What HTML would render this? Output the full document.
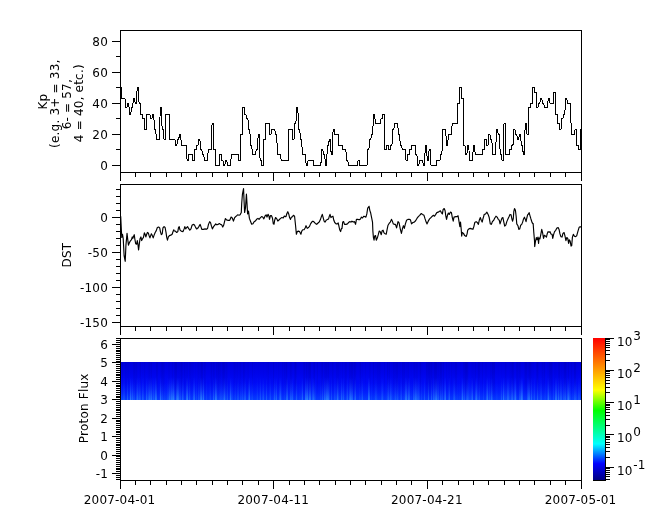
<!DOCTYPE html><html><head><meta charset="utf-8"><title>Kp DST Proton Flux</title>
<style>html,body{margin:0;padding:0;background:#fff}svg{display:block}text{letter-spacing:0.2px;font-family:"DejaVu Sans","Liberation Sans",sans-serif;font-size:12px;fill:#000}</style></head><body>
<svg width="665" height="523" viewBox="0 0 665 523">
<rect width="665" height="523" fill="#fff"/>
<g shape-rendering="crispEdges">
<defs><linearGradient id="bg" x1="0" y1="0" x2="0" y2="1"><stop offset="0" stop-color="#0000dc"/><stop offset="0.3" stop-color="#0004ea"/><stop offset="0.55" stop-color="#000af6"/><stop offset="0.8" stop-color="#0220fd"/><stop offset="1" stop-color="#063cff"/></linearGradient>
<linearGradient id="sl" x1="0" y1="0" x2="0" y2="1"><stop offset="0.4" stop-color="#3090ff" stop-opacity="0"/><stop offset="0.7" stop-color="#3898ff" stop-opacity="0.3"/><stop offset="1" stop-color="#40b0ff" stop-opacity="0.7"/></linearGradient>
<linearGradient id="sd" x1="0" y1="0" x2="0" y2="1"><stop offset="0" stop-color="#0000a0" stop-opacity="0.55"/><stop offset="0.6" stop-color="#0000b0" stop-opacity="0.3"/><stop offset="1" stop-color="#0000c0" stop-opacity="0"/></linearGradient>
<linearGradient id="cb" x1="0" y1="0" x2="0" y2="1">
<stop offset="0" stop-color="#ff0000"/>
<stop offset="0.366" stop-color="#ffff00"/>
<stop offset="0.51" stop-color="#00ff00"/>
<stop offset="0.63" stop-color="#00ff80"/>
<stop offset="0.746" stop-color="#00ffff"/>
<stop offset="0.885" stop-color="#0000ff"/>
<stop offset="1" stop-color="#000082"/>
</linearGradient></defs>
<rect x="121" y="362" width="460" height="38" fill="url(#bg)"/>
<rect x="121" y="362" width="1" height="38" fill="url(#sl)" opacity="0.16"/>
<rect x="121" y="362" width="1" height="38" fill="url(#sd)" opacity="0.09"/>
<rect x="122" y="362" width="1" height="38" fill="url(#sl)" opacity="0.09"/>
<rect x="122" y="362" width="1" height="38" fill="url(#sd)" opacity="0.44"/>
<rect x="123" y="362" width="1" height="38" fill="url(#sl)" opacity="0.26"/>
<rect x="123" y="362" width="1" height="38" fill="url(#sd)" opacity="0.05"/>
<rect x="124" y="362" width="1" height="38" fill="url(#sl)" opacity="0.27"/>
<rect x="124" y="362" width="1" height="38" fill="url(#sd)" opacity="0.07"/>
<rect x="125" y="362" width="1" height="38" fill="url(#sd)" opacity="0.34"/>
<rect x="126" y="362" width="1" height="38" fill="url(#sd)" opacity="0.29"/>
<rect x="127" y="362" width="1" height="38" fill="url(#sl)" opacity="0.49"/>
<rect x="127" y="362" width="1" height="38" fill="url(#sd)" opacity="0.26"/>
<rect x="128" y="362" width="1" height="38" fill="url(#sl)" opacity="0.05"/>
<rect x="128" y="362" width="1" height="38" fill="url(#sd)" opacity="0.29"/>
<rect x="129" y="362" width="1" height="38" fill="url(#sl)" opacity="0.08"/>
<rect x="129" y="362" width="1" height="38" fill="url(#sd)" opacity="0.15"/>
<rect x="130" y="362" width="1" height="38" fill="url(#sl)" opacity="0.76"/>
<rect x="131" y="362" width="1" height="38" fill="url(#sl)" opacity="0.30"/>
<rect x="132" y="362" width="1" height="38" fill="url(#sl)" opacity="0.53"/>
<rect x="133" y="362" width="1" height="38" fill="url(#sl)" opacity="0.23"/>
<rect x="133" y="362" width="1" height="38" fill="url(#sd)" opacity="0.34"/>
<rect x="134" y="362" width="1" height="38" fill="url(#sl)" opacity="0.26"/>
<rect x="134" y="362" width="1" height="38" fill="url(#sd)" opacity="0.41"/>
<rect x="135" y="362" width="1" height="38" fill="url(#sd)" opacity="0.29"/>
<rect x="136" y="362" width="1" height="38" fill="url(#sl)" opacity="0.33"/>
<rect x="136" y="362" width="1" height="38" fill="url(#sd)" opacity="0.35"/>
<rect x="137" y="362" width="1" height="38" fill="url(#sl)" opacity="0.61"/>
<rect x="137" y="362" width="1" height="38" fill="url(#sd)" opacity="0.11"/>
<rect x="138" y="362" width="1" height="38" fill="url(#sl)" opacity="0.29"/>
<rect x="139" y="362" width="1" height="38" fill="url(#sl)" opacity="0.44"/>
<rect x="139" y="362" width="1" height="38" fill="url(#sd)" opacity="0.14"/>
<rect x="140" y="362" width="1" height="38" fill="url(#sl)" opacity="0.34"/>
<rect x="140" y="362" width="1" height="38" fill="url(#sd)" opacity="0.41"/>
<rect x="142" y="362" width="1" height="38" fill="url(#sl)" opacity="0.42"/>
<rect x="142" y="362" width="1" height="38" fill="url(#sd)" opacity="0.11"/>
<rect x="143" y="362" width="1" height="38" fill="url(#sl)" opacity="0.27"/>
<rect x="143" y="362" width="1" height="38" fill="url(#sd)" opacity="0.08"/>
<rect x="144" y="362" width="1" height="38" fill="url(#sd)" opacity="0.33"/>
<rect x="145" y="362" width="1" height="38" fill="url(#sd)" opacity="0.11"/>
<rect x="146" y="362" width="1" height="38" fill="url(#sl)" opacity="0.55"/>
<rect x="146" y="362" width="1" height="38" fill="url(#sd)" opacity="0.05"/>
<rect x="147" y="362" width="1" height="38" fill="url(#sl)" opacity="0.24"/>
<rect x="147" y="362" width="1" height="38" fill="url(#sd)" opacity="0.11"/>
<rect x="148" y="362" width="1" height="38" fill="url(#sl)" opacity="0.45"/>
<rect x="148" y="362" width="1" height="38" fill="url(#sd)" opacity="0.24"/>
<rect x="149" y="362" width="1" height="38" fill="url(#sl)" opacity="0.67"/>
<rect x="149" y="362" width="1" height="38" fill="url(#sd)" opacity="0.37"/>
<rect x="150" y="362" width="1" height="38" fill="url(#sl)" opacity="0.53"/>
<rect x="150" y="362" width="1" height="38" fill="url(#sd)" opacity="0.19"/>
<rect x="151" y="362" width="1" height="38" fill="url(#sl)" opacity="0.69"/>
<rect x="151" y="362" width="1" height="38" fill="url(#sd)" opacity="0.39"/>
<rect x="152" y="362" width="1" height="38" fill="url(#sl)" opacity="0.22"/>
<rect x="153" y="362" width="1" height="38" fill="url(#sl)" opacity="0.47"/>
<rect x="154" y="362" width="1" height="38" fill="url(#sl)" opacity="0.26"/>
<rect x="155" y="362" width="1" height="38" fill="url(#sl)" opacity="0.75"/>
<rect x="156" y="362" width="1" height="38" fill="url(#sl)" opacity="0.65"/>
<rect x="156" y="362" width="1" height="38" fill="url(#sd)" opacity="0.39"/>
<rect x="157" y="362" width="1" height="38" fill="url(#sd)" opacity="0.36"/>
<rect x="159" y="362" width="1" height="38" fill="url(#sl)" opacity="0.05"/>
<rect x="160" y="362" width="1" height="38" fill="url(#sl)" opacity="0.70"/>
<rect x="160" y="362" width="1" height="38" fill="url(#sd)" opacity="0.13"/>
<rect x="161" y="362" width="1" height="38" fill="url(#sl)" opacity="0.22"/>
<rect x="161" y="362" width="1" height="38" fill="url(#sd)" opacity="0.40"/>
<rect x="162" y="362" width="1" height="38" fill="url(#sl)" opacity="0.26"/>
<rect x="162" y="362" width="1" height="38" fill="url(#sd)" opacity="0.50"/>
<rect x="163" y="362" width="1" height="38" fill="url(#sl)" opacity="0.05"/>
<rect x="163" y="362" width="1" height="38" fill="url(#sd)" opacity="0.43"/>
<rect x="164" y="362" width="1" height="38" fill="url(#sl)" opacity="0.14"/>
<rect x="164" y="362" width="1" height="38" fill="url(#sd)" opacity="0.25"/>
<rect x="165" y="362" width="1" height="38" fill="url(#sl)" opacity="0.06"/>
<rect x="166" y="362" width="1" height="38" fill="url(#sl)" opacity="0.06"/>
<rect x="166" y="362" width="1" height="38" fill="url(#sd)" opacity="0.04"/>
<rect x="167" y="362" width="1" height="38" fill="url(#sl)" opacity="0.24"/>
<rect x="168" y="362" width="1" height="38" fill="url(#sl)" opacity="0.33"/>
<rect x="168" y="362" width="1" height="38" fill="url(#sd)" opacity="0.18"/>
<rect x="169" y="362" width="1" height="38" fill="url(#sl)" opacity="0.68"/>
<rect x="169" y="362" width="1" height="38" fill="url(#sd)" opacity="0.20"/>
<rect x="170" y="362" width="1" height="38" fill="url(#sl)" opacity="0.50"/>
<rect x="171" y="362" width="1" height="38" fill="url(#sl)" opacity="0.77"/>
<rect x="171" y="362" width="1" height="38" fill="url(#sd)" opacity="0.05"/>
<rect x="172" y="362" width="1" height="38" fill="url(#sl)" opacity="0.75"/>
<rect x="172" y="362" width="1" height="38" fill="url(#sd)" opacity="0.32"/>
<rect x="173" y="362" width="1" height="38" fill="url(#sl)" opacity="0.87"/>
<rect x="173" y="362" width="1" height="38" fill="url(#sd)" opacity="0.06"/>
<rect x="174" y="362" width="1" height="38" fill="url(#sl)" opacity="0.40"/>
<rect x="174" y="362" width="1" height="38" fill="url(#sd)" opacity="0.43"/>
<rect x="175" y="362" width="1" height="38" fill="url(#sl)" opacity="0.07"/>
<rect x="175" y="362" width="1" height="38" fill="url(#sd)" opacity="0.62"/>
<rect x="176" y="362" width="1" height="38" fill="url(#sl)" opacity="0.64"/>
<rect x="176" y="362" width="1" height="38" fill="url(#sd)" opacity="0.59"/>
<rect x="177" y="362" width="1" height="38" fill="url(#sl)" opacity="0.87"/>
<rect x="177" y="362" width="1" height="38" fill="url(#sd)" opacity="0.19"/>
<rect x="178" y="362" width="1" height="38" fill="url(#sl)" opacity="0.74"/>
<rect x="178" y="362" width="1" height="38" fill="url(#sd)" opacity="0.22"/>
<rect x="179" y="362" width="1" height="38" fill="url(#sl)" opacity="0.34"/>
<rect x="179" y="362" width="1" height="38" fill="url(#sd)" opacity="0.27"/>
<rect x="180" y="362" width="1" height="38" fill="url(#sl)" opacity="0.36"/>
<rect x="180" y="362" width="1" height="38" fill="url(#sd)" opacity="0.37"/>
<rect x="181" y="362" width="1" height="38" fill="url(#sl)" opacity="0.09"/>
<rect x="181" y="362" width="1" height="38" fill="url(#sd)" opacity="0.62"/>
<rect x="182" y="362" width="1" height="38" fill="url(#sl)" opacity="0.52"/>
<rect x="182" y="362" width="1" height="38" fill="url(#sd)" opacity="0.38"/>
<rect x="183" y="362" width="1" height="38" fill="url(#sl)" opacity="0.27"/>
<rect x="183" y="362" width="1" height="38" fill="url(#sd)" opacity="0.15"/>
<rect x="184" y="362" width="1" height="38" fill="url(#sd)" opacity="0.44"/>
<rect x="185" y="362" width="1" height="38" fill="url(#sd)" opacity="0.25"/>
<rect x="186" y="362" width="1" height="38" fill="url(#sl)" opacity="0.63"/>
<rect x="186" y="362" width="1" height="38" fill="url(#sd)" opacity="0.29"/>
<rect x="187" y="362" width="1" height="38" fill="url(#sl)" opacity="0.81"/>
<rect x="187" y="362" width="1" height="38" fill="url(#sd)" opacity="0.32"/>
<rect x="188" y="362" width="1" height="38" fill="url(#sl)" opacity="0.11"/>
<rect x="188" y="362" width="1" height="38" fill="url(#sd)" opacity="0.04"/>
<rect x="189" y="362" width="1" height="38" fill="url(#sl)" opacity="0.45"/>
<rect x="189" y="362" width="1" height="38" fill="url(#sd)" opacity="0.36"/>
<rect x="190" y="362" width="1" height="38" fill="url(#sl)" opacity="0.12"/>
<rect x="190" y="362" width="1" height="38" fill="url(#sd)" opacity="0.34"/>
<rect x="191" y="362" width="1" height="38" fill="url(#sd)" opacity="0.21"/>
<rect x="192" y="362" width="1" height="38" fill="url(#sl)" opacity="0.04"/>
<rect x="192" y="362" width="1" height="38" fill="url(#sd)" opacity="0.19"/>
<rect x="193" y="362" width="1" height="38" fill="url(#sl)" opacity="0.50"/>
<rect x="193" y="362" width="1" height="38" fill="url(#sd)" opacity="0.12"/>
<rect x="194" y="362" width="1" height="38" fill="url(#sl)" opacity="0.61"/>
<rect x="195" y="362" width="1" height="38" fill="url(#sl)" opacity="0.04"/>
<rect x="195" y="362" width="1" height="38" fill="url(#sd)" opacity="0.12"/>
<rect x="196" y="362" width="1" height="38" fill="url(#sl)" opacity="0.21"/>
<rect x="197" y="362" width="1" height="38" fill="url(#sd)" opacity="0.16"/>
<rect x="198" y="362" width="1" height="38" fill="url(#sl)" opacity="0.34"/>
<rect x="198" y="362" width="1" height="38" fill="url(#sd)" opacity="0.28"/>
<rect x="199" y="362" width="1" height="38" fill="url(#sl)" opacity="0.15"/>
<rect x="199" y="362" width="1" height="38" fill="url(#sd)" opacity="0.18"/>
<rect x="200" y="362" width="1" height="38" fill="url(#sl)" opacity="0.68"/>
<rect x="200" y="362" width="1" height="38" fill="url(#sd)" opacity="0.30"/>
<rect x="201" y="362" width="1" height="38" fill="url(#sl)" opacity="0.83"/>
<rect x="201" y="362" width="1" height="38" fill="url(#sd)" opacity="0.63"/>
<rect x="202" y="362" width="1" height="38" fill="url(#sl)" opacity="0.36"/>
<rect x="202" y="362" width="1" height="38" fill="url(#sd)" opacity="0.53"/>
<rect x="203" y="362" width="1" height="38" fill="url(#sl)" opacity="0.77"/>
<rect x="203" y="362" width="1" height="38" fill="url(#sd)" opacity="0.11"/>
<rect x="204" y="362" width="1" height="38" fill="url(#sl)" opacity="0.10"/>
<rect x="204" y="362" width="1" height="38" fill="url(#sd)" opacity="0.38"/>
<rect x="205" y="362" width="1" height="38" fill="url(#sd)" opacity="0.27"/>
<rect x="206" y="362" width="1" height="38" fill="url(#sl)" opacity="0.19"/>
<rect x="209" y="362" width="1" height="38" fill="url(#sl)" opacity="0.08"/>
<rect x="210" y="362" width="1" height="38" fill="url(#sl)" opacity="0.23"/>
<rect x="210" y="362" width="1" height="38" fill="url(#sd)" opacity="0.24"/>
<rect x="211" y="362" width="1" height="38" fill="url(#sd)" opacity="0.51"/>
<rect x="212" y="362" width="1" height="38" fill="url(#sd)" opacity="0.21"/>
<rect x="213" y="362" width="1" height="38" fill="url(#sl)" opacity="0.53"/>
<rect x="213" y="362" width="1" height="38" fill="url(#sd)" opacity="0.48"/>
<rect x="214" y="362" width="1" height="38" fill="url(#sl)" opacity="0.19"/>
<rect x="214" y="362" width="1" height="38" fill="url(#sd)" opacity="0.35"/>
<rect x="215" y="362" width="1" height="38" fill="url(#sl)" opacity="0.78"/>
<rect x="215" y="362" width="1" height="38" fill="url(#sd)" opacity="0.08"/>
<rect x="216" y="362" width="1" height="38" fill="url(#sl)" opacity="0.70"/>
<rect x="216" y="362" width="1" height="38" fill="url(#sd)" opacity="0.44"/>
<rect x="217" y="362" width="1" height="38" fill="url(#sl)" opacity="0.14"/>
<rect x="217" y="362" width="1" height="38" fill="url(#sd)" opacity="0.39"/>
<rect x="218" y="362" width="1" height="38" fill="url(#sl)" opacity="0.12"/>
<rect x="218" y="362" width="1" height="38" fill="url(#sd)" opacity="0.57"/>
<rect x="219" y="362" width="1" height="38" fill="url(#sl)" opacity="0.20"/>
<rect x="219" y="362" width="1" height="38" fill="url(#sd)" opacity="0.45"/>
<rect x="220" y="362" width="1" height="38" fill="url(#sl)" opacity="0.32"/>
<rect x="220" y="362" width="1" height="38" fill="url(#sd)" opacity="0.37"/>
<rect x="221" y="362" width="1" height="38" fill="url(#sl)" opacity="0.28"/>
<rect x="221" y="362" width="1" height="38" fill="url(#sd)" opacity="0.18"/>
<rect x="222" y="362" width="1" height="38" fill="url(#sl)" opacity="0.25"/>
<rect x="222" y="362" width="1" height="38" fill="url(#sd)" opacity="0.47"/>
<rect x="223" y="362" width="1" height="38" fill="url(#sl)" opacity="0.37"/>
<rect x="223" y="362" width="1" height="38" fill="url(#sd)" opacity="0.64"/>
<rect x="224" y="362" width="1" height="38" fill="url(#sl)" opacity="0.71"/>
<rect x="224" y="362" width="1" height="38" fill="url(#sd)" opacity="0.53"/>
<rect x="225" y="362" width="1" height="38" fill="url(#sl)" opacity="0.25"/>
<rect x="225" y="362" width="1" height="38" fill="url(#sd)" opacity="0.24"/>
<rect x="226" y="362" width="1" height="38" fill="url(#sl)" opacity="0.15"/>
<rect x="226" y="362" width="1" height="38" fill="url(#sd)" opacity="0.36"/>
<rect x="227" y="362" width="1" height="38" fill="url(#sl)" opacity="0.36"/>
<rect x="227" y="362" width="1" height="38" fill="url(#sd)" opacity="0.17"/>
<rect x="229" y="362" width="1" height="38" fill="url(#sl)" opacity="0.10"/>
<rect x="230" y="362" width="1" height="38" fill="url(#sl)" opacity="0.74"/>
<rect x="231" y="362" width="1" height="38" fill="url(#sl)" opacity="0.28"/>
<rect x="232" y="362" width="1" height="38" fill="url(#sl)" opacity="0.18"/>
<rect x="233" y="362" width="1" height="38" fill="url(#sd)" opacity="0.17"/>
<rect x="234" y="362" width="1" height="38" fill="url(#sl)" opacity="0.08"/>
<rect x="234" y="362" width="1" height="38" fill="url(#sd)" opacity="0.33"/>
<rect x="235" y="362" width="1" height="38" fill="url(#sl)" opacity="0.19"/>
<rect x="235" y="362" width="1" height="38" fill="url(#sd)" opacity="0.23"/>
<rect x="236" y="362" width="1" height="38" fill="url(#sd)" opacity="0.16"/>
<rect x="237" y="362" width="1" height="38" fill="url(#sl)" opacity="0.26"/>
<rect x="237" y="362" width="1" height="38" fill="url(#sd)" opacity="0.25"/>
<rect x="238" y="362" width="1" height="38" fill="url(#sl)" opacity="0.27"/>
<rect x="238" y="362" width="1" height="38" fill="url(#sd)" opacity="0.08"/>
<rect x="239" y="362" width="1" height="38" fill="url(#sd)" opacity="0.18"/>
<rect x="240" y="362" width="1" height="38" fill="url(#sl)" opacity="0.25"/>
<rect x="240" y="362" width="1" height="38" fill="url(#sd)" opacity="0.36"/>
<rect x="241" y="362" width="1" height="38" fill="url(#sl)" opacity="0.18"/>
<rect x="241" y="362" width="1" height="38" fill="url(#sd)" opacity="0.12"/>
<rect x="242" y="362" width="1" height="38" fill="url(#sl)" opacity="0.32"/>
<rect x="242" y="362" width="1" height="38" fill="url(#sd)" opacity="0.06"/>
<rect x="243" y="362" width="1" height="38" fill="url(#sl)" opacity="0.12"/>
<rect x="243" y="362" width="1" height="38" fill="url(#sd)" opacity="0.50"/>
<rect x="244" y="362" width="1" height="38" fill="url(#sl)" opacity="0.40"/>
<rect x="244" y="362" width="1" height="38" fill="url(#sd)" opacity="0.39"/>
<rect x="245" y="362" width="1" height="38" fill="url(#sl)" opacity="0.41"/>
<rect x="245" y="362" width="1" height="38" fill="url(#sd)" opacity="0.12"/>
<rect x="246" y="362" width="1" height="38" fill="url(#sd)" opacity="0.09"/>
<rect x="247" y="362" width="1" height="38" fill="url(#sd)" opacity="0.20"/>
<rect x="248" y="362" width="1" height="38" fill="url(#sl)" opacity="0.40"/>
<rect x="248" y="362" width="1" height="38" fill="url(#sd)" opacity="0.22"/>
<rect x="249" y="362" width="1" height="38" fill="url(#sl)" opacity="0.73"/>
<rect x="250" y="362" width="1" height="38" fill="url(#sl)" opacity="0.09"/>
<rect x="251" y="362" width="1" height="38" fill="url(#sl)" opacity="0.12"/>
<rect x="252" y="362" width="1" height="38" fill="url(#sl)" opacity="0.22"/>
<rect x="252" y="362" width="1" height="38" fill="url(#sd)" opacity="0.32"/>
<rect x="254" y="362" width="1" height="38" fill="url(#sd)" opacity="0.08"/>
<rect x="256" y="362" width="1" height="38" fill="url(#sl)" opacity="0.06"/>
<rect x="257" y="362" width="1" height="38" fill="url(#sl)" opacity="0.22"/>
<rect x="258" y="362" width="1" height="38" fill="url(#sd)" opacity="0.05"/>
<rect x="259" y="362" width="1" height="38" fill="url(#sl)" opacity="0.10"/>
<rect x="260" y="362" width="1" height="38" fill="url(#sl)" opacity="0.41"/>
<rect x="262" y="362" width="1" height="38" fill="url(#sl)" opacity="0.23"/>
<rect x="263" y="362" width="1" height="38" fill="url(#sl)" opacity="0.40"/>
<rect x="263" y="362" width="1" height="38" fill="url(#sd)" opacity="0.09"/>
<rect x="264" y="362" width="1" height="38" fill="url(#sl)" opacity="0.05"/>
<rect x="266" y="362" width="1" height="38" fill="url(#sl)" opacity="0.44"/>
<rect x="266" y="362" width="1" height="38" fill="url(#sd)" opacity="0.09"/>
<rect x="267" y="362" width="1" height="38" fill="url(#sd)" opacity="0.15"/>
<rect x="268" y="362" width="1" height="38" fill="url(#sd)" opacity="0.27"/>
<rect x="269" y="362" width="1" height="38" fill="url(#sl)" opacity="0.12"/>
<rect x="270" y="362" width="1" height="38" fill="url(#sl)" opacity="0.32"/>
<rect x="270" y="362" width="1" height="38" fill="url(#sd)" opacity="0.06"/>
<rect x="271" y="362" width="1" height="38" fill="url(#sd)" opacity="0.06"/>
<rect x="273" y="362" width="1" height="38" fill="url(#sl)" opacity="0.09"/>
<rect x="273" y="362" width="1" height="38" fill="url(#sd)" opacity="0.48"/>
<rect x="274" y="362" width="1" height="38" fill="url(#sl)" opacity="0.51"/>
<rect x="274" y="362" width="1" height="38" fill="url(#sd)" opacity="0.06"/>
<rect x="275" y="362" width="1" height="38" fill="url(#sl)" opacity="0.24"/>
<rect x="276" y="362" width="1" height="38" fill="url(#sl)" opacity="0.53"/>
<rect x="276" y="362" width="1" height="38" fill="url(#sd)" opacity="0.08"/>
<rect x="278" y="362" width="1" height="38" fill="url(#sl)" opacity="0.04"/>
<rect x="278" y="362" width="1" height="38" fill="url(#sd)" opacity="0.21"/>
<rect x="279" y="362" width="1" height="38" fill="url(#sl)" opacity="0.36"/>
<rect x="279" y="362" width="1" height="38" fill="url(#sd)" opacity="0.07"/>
<rect x="280" y="362" width="1" height="38" fill="url(#sl)" opacity="0.63"/>
<rect x="281" y="362" width="1" height="38" fill="url(#sl)" opacity="0.17"/>
<rect x="282" y="362" width="1" height="38" fill="url(#sd)" opacity="0.28"/>
<rect x="283" y="362" width="1" height="38" fill="url(#sd)" opacity="0.13"/>
<rect x="284" y="362" width="1" height="38" fill="url(#sl)" opacity="0.13"/>
<rect x="284" y="362" width="1" height="38" fill="url(#sd)" opacity="0.37"/>
<rect x="285" y="362" width="1" height="38" fill="url(#sl)" opacity="0.04"/>
<rect x="285" y="362" width="1" height="38" fill="url(#sd)" opacity="0.28"/>
<rect x="286" y="362" width="1" height="38" fill="url(#sl)" opacity="0.53"/>
<rect x="286" y="362" width="1" height="38" fill="url(#sd)" opacity="0.50"/>
<rect x="287" y="362" width="1" height="38" fill="url(#sl)" opacity="0.57"/>
<rect x="287" y="362" width="1" height="38" fill="url(#sd)" opacity="0.11"/>
<rect x="289" y="362" width="1" height="38" fill="url(#sl)" opacity="0.05"/>
<rect x="289" y="362" width="1" height="38" fill="url(#sd)" opacity="0.07"/>
<rect x="290" y="362" width="1" height="38" fill="url(#sl)" opacity="0.50"/>
<rect x="290" y="362" width="1" height="38" fill="url(#sd)" opacity="0.41"/>
<rect x="291" y="362" width="1" height="38" fill="url(#sl)" opacity="0.41"/>
<rect x="291" y="362" width="1" height="38" fill="url(#sd)" opacity="0.31"/>
<rect x="292" y="362" width="1" height="38" fill="url(#sl)" opacity="0.50"/>
<rect x="292" y="362" width="1" height="38" fill="url(#sd)" opacity="0.06"/>
<rect x="293" y="362" width="1" height="38" fill="url(#sl)" opacity="0.08"/>
<rect x="294" y="362" width="1" height="38" fill="url(#sd)" opacity="0.35"/>
<rect x="295" y="362" width="1" height="38" fill="url(#sl)" opacity="0.05"/>
<rect x="295" y="362" width="1" height="38" fill="url(#sd)" opacity="0.60"/>
<rect x="296" y="362" width="1" height="38" fill="url(#sl)" opacity="0.44"/>
<rect x="296" y="362" width="1" height="38" fill="url(#sd)" opacity="0.28"/>
<rect x="297" y="362" width="1" height="38" fill="url(#sl)" opacity="0.05"/>
<rect x="299" y="362" width="1" height="38" fill="url(#sl)" opacity="0.07"/>
<rect x="300" y="362" width="1" height="38" fill="url(#sl)" opacity="0.08"/>
<rect x="301" y="362" width="1" height="38" fill="url(#sl)" opacity="0.17"/>
<rect x="302" y="362" width="1" height="38" fill="url(#sl)" opacity="0.62"/>
<rect x="303" y="362" width="1" height="38" fill="url(#sd)" opacity="0.32"/>
<rect x="304" y="362" width="1" height="38" fill="url(#sd)" opacity="0.49"/>
<rect x="305" y="362" width="1" height="38" fill="url(#sl)" opacity="0.74"/>
<rect x="305" y="362" width="1" height="38" fill="url(#sd)" opacity="0.17"/>
<rect x="306" y="362" width="1" height="38" fill="url(#sl)" opacity="0.78"/>
<rect x="306" y="362" width="1" height="38" fill="url(#sd)" opacity="0.53"/>
<rect x="307" y="362" width="1" height="38" fill="url(#sl)" opacity="0.83"/>
<rect x="307" y="362" width="1" height="38" fill="url(#sd)" opacity="0.30"/>
<rect x="308" y="362" width="1" height="38" fill="url(#sl)" opacity="0.30"/>
<rect x="308" y="362" width="1" height="38" fill="url(#sd)" opacity="0.48"/>
<rect x="309" y="362" width="1" height="38" fill="url(#sl)" opacity="0.78"/>
<rect x="309" y="362" width="1" height="38" fill="url(#sd)" opacity="0.64"/>
<rect x="310" y="362" width="1" height="38" fill="url(#sl)" opacity="0.73"/>
<rect x="310" y="362" width="1" height="38" fill="url(#sd)" opacity="0.56"/>
<rect x="311" y="362" width="1" height="38" fill="url(#sl)" opacity="0.12"/>
<rect x="312" y="362" width="1" height="38" fill="url(#sl)" opacity="0.45"/>
<rect x="313" y="362" width="1" height="38" fill="url(#sl)" opacity="0.61"/>
<rect x="313" y="362" width="1" height="38" fill="url(#sd)" opacity="0.31"/>
<rect x="314" y="362" width="1" height="38" fill="url(#sl)" opacity="0.39"/>
<rect x="314" y="362" width="1" height="38" fill="url(#sd)" opacity="0.51"/>
<rect x="315" y="362" width="1" height="38" fill="url(#sl)" opacity="0.18"/>
<rect x="316" y="362" width="1" height="38" fill="url(#sd)" opacity="0.07"/>
<rect x="317" y="362" width="1" height="38" fill="url(#sd)" opacity="0.39"/>
<rect x="319" y="362" width="1" height="38" fill="url(#sd)" opacity="0.05"/>
<rect x="320" y="362" width="1" height="38" fill="url(#sl)" opacity="0.19"/>
<rect x="320" y="362" width="1" height="38" fill="url(#sd)" opacity="0.10"/>
<rect x="321" y="362" width="1" height="38" fill="url(#sl)" opacity="0.09"/>
<rect x="321" y="362" width="1" height="38" fill="url(#sd)" opacity="0.37"/>
<rect x="322" y="362" width="1" height="38" fill="url(#sl)" opacity="0.45"/>
<rect x="322" y="362" width="1" height="38" fill="url(#sd)" opacity="0.51"/>
<rect x="323" y="362" width="1" height="38" fill="url(#sl)" opacity="0.09"/>
<rect x="323" y="362" width="1" height="38" fill="url(#sd)" opacity="0.12"/>
<rect x="324" y="362" width="1" height="38" fill="url(#sl)" opacity="0.64"/>
<rect x="324" y="362" width="1" height="38" fill="url(#sd)" opacity="0.36"/>
<rect x="325" y="362" width="1" height="38" fill="url(#sl)" opacity="0.51"/>
<rect x="325" y="362" width="1" height="38" fill="url(#sd)" opacity="0.45"/>
<rect x="326" y="362" width="1" height="38" fill="url(#sl)" opacity="0.77"/>
<rect x="326" y="362" width="1" height="38" fill="url(#sd)" opacity="0.49"/>
<rect x="327" y="362" width="1" height="38" fill="url(#sl)" opacity="0.78"/>
<rect x="327" y="362" width="1" height="38" fill="url(#sd)" opacity="0.35"/>
<rect x="328" y="362" width="1" height="38" fill="url(#sl)" opacity="0.72"/>
<rect x="328" y="362" width="1" height="38" fill="url(#sd)" opacity="0.51"/>
<rect x="329" y="362" width="1" height="38" fill="url(#sl)" opacity="0.28"/>
<rect x="329" y="362" width="1" height="38" fill="url(#sd)" opacity="0.16"/>
<rect x="330" y="362" width="1" height="38" fill="url(#sd)" opacity="0.08"/>
<rect x="331" y="362" width="1" height="38" fill="url(#sl)" opacity="0.36"/>
<rect x="331" y="362" width="1" height="38" fill="url(#sd)" opacity="0.06"/>
<rect x="332" y="362" width="1" height="38" fill="url(#sd)" opacity="0.36"/>
<rect x="333" y="362" width="1" height="38" fill="url(#sd)" opacity="0.19"/>
<rect x="334" y="362" width="1" height="38" fill="url(#sl)" opacity="0.31"/>
<rect x="335" y="362" width="1" height="38" fill="url(#sl)" opacity="0.20"/>
<rect x="336" y="362" width="1" height="38" fill="url(#sl)" opacity="0.19"/>
<rect x="336" y="362" width="1" height="38" fill="url(#sd)" opacity="0.32"/>
<rect x="337" y="362" width="1" height="38" fill="url(#sl)" opacity="0.70"/>
<rect x="337" y="362" width="1" height="38" fill="url(#sd)" opacity="0.33"/>
<rect x="338" y="362" width="1" height="38" fill="url(#sl)" opacity="0.34"/>
<rect x="338" y="362" width="1" height="38" fill="url(#sd)" opacity="0.34"/>
<rect x="339" y="362" width="1" height="38" fill="url(#sl)" opacity="0.05"/>
<rect x="339" y="362" width="1" height="38" fill="url(#sd)" opacity="0.14"/>
<rect x="340" y="362" width="1" height="38" fill="url(#sl)" opacity="0.06"/>
<rect x="340" y="362" width="1" height="38" fill="url(#sd)" opacity="0.12"/>
<rect x="341" y="362" width="1" height="38" fill="url(#sl)" opacity="0.55"/>
<rect x="342" y="362" width="1" height="38" fill="url(#sl)" opacity="0.26"/>
<rect x="342" y="362" width="1" height="38" fill="url(#sd)" opacity="0.25"/>
<rect x="343" y="362" width="1" height="38" fill="url(#sl)" opacity="0.45"/>
<rect x="344" y="362" width="1" height="38" fill="url(#sl)" opacity="0.08"/>
<rect x="344" y="362" width="1" height="38" fill="url(#sd)" opacity="0.16"/>
<rect x="345" y="362" width="1" height="38" fill="url(#sd)" opacity="0.40"/>
<rect x="346" y="362" width="1" height="38" fill="url(#sl)" opacity="0.22"/>
<rect x="346" y="362" width="1" height="38" fill="url(#sd)" opacity="0.31"/>
<rect x="347" y="362" width="1" height="38" fill="url(#sl)" opacity="0.49"/>
<rect x="348" y="362" width="1" height="38" fill="url(#sl)" opacity="0.09"/>
<rect x="348" y="362" width="1" height="38" fill="url(#sd)" opacity="0.05"/>
<rect x="349" y="362" width="1" height="38" fill="url(#sl)" opacity="0.53"/>
<rect x="349" y="362" width="1" height="38" fill="url(#sd)" opacity="0.44"/>
<rect x="350" y="362" width="1" height="38" fill="url(#sl)" opacity="0.77"/>
<rect x="350" y="362" width="1" height="38" fill="url(#sd)" opacity="0.41"/>
<rect x="351" y="362" width="1" height="38" fill="url(#sl)" opacity="0.63"/>
<rect x="351" y="362" width="1" height="38" fill="url(#sd)" opacity="0.56"/>
<rect x="352" y="362" width="1" height="38" fill="url(#sl)" opacity="0.54"/>
<rect x="352" y="362" width="1" height="38" fill="url(#sd)" opacity="0.53"/>
<rect x="353" y="362" width="1" height="38" fill="url(#sd)" opacity="0.28"/>
<rect x="354" y="362" width="1" height="38" fill="url(#sl)" opacity="0.32"/>
<rect x="354" y="362" width="1" height="38" fill="url(#sd)" opacity="0.53"/>
<rect x="355" y="362" width="1" height="38" fill="url(#sl)" opacity="0.56"/>
<rect x="355" y="362" width="1" height="38" fill="url(#sd)" opacity="0.40"/>
<rect x="356" y="362" width="1" height="38" fill="url(#sd)" opacity="0.10"/>
<rect x="359" y="362" width="1" height="38" fill="url(#sl)" opacity="0.16"/>
<rect x="359" y="362" width="1" height="38" fill="url(#sd)" opacity="0.15"/>
<rect x="360" y="362" width="1" height="38" fill="url(#sl)" opacity="0.11"/>
<rect x="360" y="362" width="1" height="38" fill="url(#sd)" opacity="0.49"/>
<rect x="361" y="362" width="1" height="38" fill="url(#sl)" opacity="0.18"/>
<rect x="361" y="362" width="1" height="38" fill="url(#sd)" opacity="0.07"/>
<rect x="362" y="362" width="1" height="38" fill="url(#sl)" opacity="0.42"/>
<rect x="362" y="362" width="1" height="38" fill="url(#sd)" opacity="0.14"/>
<rect x="365" y="362" width="1" height="38" fill="url(#sd)" opacity="0.21"/>
<rect x="368" y="362" width="1" height="38" fill="url(#sl)" opacity="0.78"/>
<rect x="369" y="362" width="1" height="38" fill="url(#sl)" opacity="0.63"/>
<rect x="369" y="362" width="1" height="38" fill="url(#sd)" opacity="0.26"/>
<rect x="370" y="362" width="1" height="38" fill="url(#sd)" opacity="0.22"/>
<rect x="371" y="362" width="1" height="38" fill="url(#sl)" opacity="0.11"/>
<rect x="372" y="362" width="1" height="38" fill="url(#sd)" opacity="0.06"/>
<rect x="373" y="362" width="1" height="38" fill="url(#sd)" opacity="0.49"/>
<rect x="374" y="362" width="1" height="38" fill="url(#sl)" opacity="0.06"/>
<rect x="374" y="362" width="1" height="38" fill="url(#sd)" opacity="0.12"/>
<rect x="375" y="362" width="1" height="38" fill="url(#sl)" opacity="0.30"/>
<rect x="375" y="362" width="1" height="38" fill="url(#sd)" opacity="0.18"/>
<rect x="376" y="362" width="1" height="38" fill="url(#sl)" opacity="0.25"/>
<rect x="376" y="362" width="1" height="38" fill="url(#sd)" opacity="0.19"/>
<rect x="377" y="362" width="1" height="38" fill="url(#sl)" opacity="0.05"/>
<rect x="377" y="362" width="1" height="38" fill="url(#sd)" opacity="0.40"/>
<rect x="378" y="362" width="1" height="38" fill="url(#sd)" opacity="0.35"/>
<rect x="379" y="362" width="1" height="38" fill="url(#sd)" opacity="0.42"/>
<rect x="380" y="362" width="1" height="38" fill="url(#sd)" opacity="0.22"/>
<rect x="381" y="362" width="1" height="38" fill="url(#sl)" opacity="0.22"/>
<rect x="382" y="362" width="1" height="38" fill="url(#sl)" opacity="0.38"/>
<rect x="383" y="362" width="1" height="38" fill="url(#sl)" opacity="0.08"/>
<rect x="384" y="362" width="1" height="38" fill="url(#sd)" opacity="0.35"/>
<rect x="386" y="362" width="1" height="38" fill="url(#sl)" opacity="0.06"/>
<rect x="387" y="362" width="1" height="38" fill="url(#sl)" opacity="0.29"/>
<rect x="387" y="362" width="1" height="38" fill="url(#sd)" opacity="0.48"/>
<rect x="388" y="362" width="1" height="38" fill="url(#sl)" opacity="0.47"/>
<rect x="388" y="362" width="1" height="38" fill="url(#sd)" opacity="0.16"/>
<rect x="389" y="362" width="1" height="38" fill="url(#sl)" opacity="0.18"/>
<rect x="389" y="362" width="1" height="38" fill="url(#sd)" opacity="0.41"/>
<rect x="390" y="362" width="1" height="38" fill="url(#sl)" opacity="0.50"/>
<rect x="391" y="362" width="1" height="38" fill="url(#sl)" opacity="0.32"/>
<rect x="391" y="362" width="1" height="38" fill="url(#sd)" opacity="0.08"/>
<rect x="392" y="362" width="1" height="38" fill="url(#sl)" opacity="0.12"/>
<rect x="392" y="362" width="1" height="38" fill="url(#sd)" opacity="0.08"/>
<rect x="393" y="362" width="1" height="38" fill="url(#sl)" opacity="0.06"/>
<rect x="393" y="362" width="1" height="38" fill="url(#sd)" opacity="0.42"/>
<rect x="394" y="362" width="1" height="38" fill="url(#sl)" opacity="0.18"/>
<rect x="394" y="362" width="1" height="38" fill="url(#sd)" opacity="0.34"/>
<rect x="395" y="362" width="1" height="38" fill="url(#sl)" opacity="0.36"/>
<rect x="395" y="362" width="1" height="38" fill="url(#sd)" opacity="0.34"/>
<rect x="396" y="362" width="1" height="38" fill="url(#sl)" opacity="0.17"/>
<rect x="396" y="362" width="1" height="38" fill="url(#sd)" opacity="0.46"/>
<rect x="397" y="362" width="1" height="38" fill="url(#sl)" opacity="0.34"/>
<rect x="397" y="362" width="1" height="38" fill="url(#sd)" opacity="0.49"/>
<rect x="398" y="362" width="1" height="38" fill="url(#sl)" opacity="0.14"/>
<rect x="398" y="362" width="1" height="38" fill="url(#sd)" opacity="0.17"/>
<rect x="399" y="362" width="1" height="38" fill="url(#sd)" opacity="0.23"/>
<rect x="400" y="362" width="1" height="38" fill="url(#sl)" opacity="0.20"/>
<rect x="400" y="362" width="1" height="38" fill="url(#sd)" opacity="0.12"/>
<rect x="401" y="362" width="1" height="38" fill="url(#sl)" opacity="0.33"/>
<rect x="402" y="362" width="1" height="38" fill="url(#sd)" opacity="0.41"/>
<rect x="403" y="362" width="1" height="38" fill="url(#sl)" opacity="0.07"/>
<rect x="403" y="362" width="1" height="38" fill="url(#sd)" opacity="0.36"/>
<rect x="404" y="362" width="1" height="38" fill="url(#sl)" opacity="0.17"/>
<rect x="404" y="362" width="1" height="38" fill="url(#sd)" opacity="0.40"/>
<rect x="405" y="362" width="1" height="38" fill="url(#sl)" opacity="0.68"/>
<rect x="405" y="362" width="1" height="38" fill="url(#sd)" opacity="0.08"/>
<rect x="406" y="362" width="1" height="38" fill="url(#sl)" opacity="0.74"/>
<rect x="406" y="362" width="1" height="38" fill="url(#sd)" opacity="0.17"/>
<rect x="407" y="362" width="1" height="38" fill="url(#sl)" opacity="0.23"/>
<rect x="407" y="362" width="1" height="38" fill="url(#sd)" opacity="0.20"/>
<rect x="408" y="362" width="1" height="38" fill="url(#sl)" opacity="0.66"/>
<rect x="408" y="362" width="1" height="38" fill="url(#sd)" opacity="0.30"/>
<rect x="409" y="362" width="1" height="38" fill="url(#sl)" opacity="0.53"/>
<rect x="410" y="362" width="1" height="38" fill="url(#sl)" opacity="0.06"/>
<rect x="410" y="362" width="1" height="38" fill="url(#sd)" opacity="0.04"/>
<rect x="411" y="362" width="1" height="38" fill="url(#sl)" opacity="0.08"/>
<rect x="411" y="362" width="1" height="38" fill="url(#sd)" opacity="0.11"/>
<rect x="413" y="362" width="1" height="38" fill="url(#sl)" opacity="0.50"/>
<rect x="413" y="362" width="1" height="38" fill="url(#sd)" opacity="0.21"/>
<rect x="414" y="362" width="1" height="38" fill="url(#sl)" opacity="0.45"/>
<rect x="414" y="362" width="1" height="38" fill="url(#sd)" opacity="0.35"/>
<rect x="415" y="362" width="1" height="38" fill="url(#sl)" opacity="0.69"/>
<rect x="415" y="362" width="1" height="38" fill="url(#sd)" opacity="0.19"/>
<rect x="416" y="362" width="1" height="38" fill="url(#sl)" opacity="0.58"/>
<rect x="416" y="362" width="1" height="38" fill="url(#sd)" opacity="0.29"/>
<rect x="417" y="362" width="1" height="38" fill="url(#sl)" opacity="0.42"/>
<rect x="417" y="362" width="1" height="38" fill="url(#sd)" opacity="0.25"/>
<rect x="418" y="362" width="1" height="38" fill="url(#sl)" opacity="0.44"/>
<rect x="419" y="362" width="1" height="38" fill="url(#sl)" opacity="0.23"/>
<rect x="419" y="362" width="1" height="38" fill="url(#sd)" opacity="0.14"/>
<rect x="420" y="362" width="1" height="38" fill="url(#sd)" opacity="0.55"/>
<rect x="421" y="362" width="1" height="38" fill="url(#sl)" opacity="0.18"/>
<rect x="421" y="362" width="1" height="38" fill="url(#sd)" opacity="0.16"/>
<rect x="422" y="362" width="1" height="38" fill="url(#sd)" opacity="0.07"/>
<rect x="424" y="362" width="1" height="38" fill="url(#sl)" opacity="0.39"/>
<rect x="425" y="362" width="1" height="38" fill="url(#sd)" opacity="0.04"/>
<rect x="426" y="362" width="1" height="38" fill="url(#sd)" opacity="0.52"/>
<rect x="427" y="362" width="1" height="38" fill="url(#sd)" opacity="0.49"/>
<rect x="428" y="362" width="1" height="38" fill="url(#sl)" opacity="0.54"/>
<rect x="428" y="362" width="1" height="38" fill="url(#sd)" opacity="0.60"/>
<rect x="429" y="362" width="1" height="38" fill="url(#sd)" opacity="0.66"/>
<rect x="430" y="362" width="1" height="38" fill="url(#sd)" opacity="0.42"/>
<rect x="431" y="362" width="1" height="38" fill="url(#sl)" opacity="0.48"/>
<rect x="431" y="362" width="1" height="38" fill="url(#sd)" opacity="0.55"/>
<rect x="432" y="362" width="1" height="38" fill="url(#sl)" opacity="0.09"/>
<rect x="432" y="362" width="1" height="38" fill="url(#sd)" opacity="0.27"/>
<rect x="433" y="362" width="1" height="38" fill="url(#sl)" opacity="0.55"/>
<rect x="433" y="362" width="1" height="38" fill="url(#sd)" opacity="0.21"/>
<rect x="434" y="362" width="1" height="38" fill="url(#sl)" opacity="0.46"/>
<rect x="434" y="362" width="1" height="38" fill="url(#sd)" opacity="0.60"/>
<rect x="435" y="362" width="1" height="38" fill="url(#sl)" opacity="0.65"/>
<rect x="435" y="362" width="1" height="38" fill="url(#sd)" opacity="0.66"/>
<rect x="436" y="362" width="1" height="38" fill="url(#sl)" opacity="0.78"/>
<rect x="436" y="362" width="1" height="38" fill="url(#sd)" opacity="0.61"/>
<rect x="437" y="362" width="1" height="38" fill="url(#sl)" opacity="0.37"/>
<rect x="437" y="362" width="1" height="38" fill="url(#sd)" opacity="0.29"/>
<rect x="438" y="362" width="1" height="38" fill="url(#sl)" opacity="0.47"/>
<rect x="438" y="362" width="1" height="38" fill="url(#sd)" opacity="0.37"/>
<rect x="439" y="362" width="1" height="38" fill="url(#sl)" opacity="0.05"/>
<rect x="439" y="362" width="1" height="38" fill="url(#sd)" opacity="0.25"/>
<rect x="440" y="362" width="1" height="38" fill="url(#sl)" opacity="0.42"/>
<rect x="440" y="362" width="1" height="38" fill="url(#sd)" opacity="0.65"/>
<rect x="441" y="362" width="1" height="38" fill="url(#sl)" opacity="0.25"/>
<rect x="441" y="362" width="1" height="38" fill="url(#sd)" opacity="0.58"/>
<rect x="442" y="362" width="1" height="38" fill="url(#sl)" opacity="0.35"/>
<rect x="442" y="362" width="1" height="38" fill="url(#sd)" opacity="0.21"/>
<rect x="443" y="362" width="1" height="38" fill="url(#sl)" opacity="0.04"/>
<rect x="443" y="362" width="1" height="38" fill="url(#sd)" opacity="0.47"/>
<rect x="444" y="362" width="1" height="38" fill="url(#sl)" opacity="0.48"/>
<rect x="444" y="362" width="1" height="38" fill="url(#sd)" opacity="0.04"/>
<rect x="445" y="362" width="1" height="38" fill="url(#sl)" opacity="0.69"/>
<rect x="446" y="362" width="1" height="38" fill="url(#sd)" opacity="0.28"/>
<rect x="447" y="362" width="1" height="38" fill="url(#sd)" opacity="0.10"/>
<rect x="448" y="362" width="1" height="38" fill="url(#sl)" opacity="0.26"/>
<rect x="448" y="362" width="1" height="38" fill="url(#sd)" opacity="0.19"/>
<rect x="449" y="362" width="1" height="38" fill="url(#sl)" opacity="0.51"/>
<rect x="449" y="362" width="1" height="38" fill="url(#sd)" opacity="0.24"/>
<rect x="451" y="362" width="1" height="38" fill="url(#sd)" opacity="0.29"/>
<rect x="452" y="362" width="1" height="38" fill="url(#sd)" opacity="0.08"/>
<rect x="453" y="362" width="1" height="38" fill="url(#sl)" opacity="0.29"/>
<rect x="453" y="362" width="1" height="38" fill="url(#sd)" opacity="0.09"/>
<rect x="454" y="362" width="1" height="38" fill="url(#sl)" opacity="0.44"/>
<rect x="454" y="362" width="1" height="38" fill="url(#sd)" opacity="0.12"/>
<rect x="455" y="362" width="1" height="38" fill="url(#sl)" opacity="0.11"/>
<rect x="455" y="362" width="1" height="38" fill="url(#sd)" opacity="0.38"/>
<rect x="456" y="362" width="1" height="38" fill="url(#sl)" opacity="0.04"/>
<rect x="456" y="362" width="1" height="38" fill="url(#sd)" opacity="0.38"/>
<rect x="457" y="362" width="1" height="38" fill="url(#sl)" opacity="0.06"/>
<rect x="457" y="362" width="1" height="38" fill="url(#sd)" opacity="0.05"/>
<rect x="459" y="362" width="1" height="38" fill="url(#sl)" opacity="0.05"/>
<rect x="460" y="362" width="1" height="38" fill="url(#sd)" opacity="0.06"/>
<rect x="461" y="362" width="1" height="38" fill="url(#sl)" opacity="0.23"/>
<rect x="462" y="362" width="1" height="38" fill="url(#sl)" opacity="0.74"/>
<rect x="463" y="362" width="1" height="38" fill="url(#sl)" opacity="0.23"/>
<rect x="463" y="362" width="1" height="38" fill="url(#sd)" opacity="0.37"/>
<rect x="464" y="362" width="1" height="38" fill="url(#sl)" opacity="0.38"/>
<rect x="464" y="362" width="1" height="38" fill="url(#sd)" opacity="0.45"/>
<rect x="465" y="362" width="1" height="38" fill="url(#sl)" opacity="0.05"/>
<rect x="465" y="362" width="1" height="38" fill="url(#sd)" opacity="0.68"/>
<rect x="466" y="362" width="1" height="38" fill="url(#sl)" opacity="0.37"/>
<rect x="466" y="362" width="1" height="38" fill="url(#sd)" opacity="0.72"/>
<rect x="467" y="362" width="1" height="38" fill="url(#sl)" opacity="0.49"/>
<rect x="467" y="362" width="1" height="38" fill="url(#sd)" opacity="0.54"/>
<rect x="468" y="362" width="1" height="38" fill="url(#sl)" opacity="0.38"/>
<rect x="468" y="362" width="1" height="38" fill="url(#sd)" opacity="0.13"/>
<rect x="469" y="362" width="1" height="38" fill="url(#sl)" opacity="0.20"/>
<rect x="470" y="362" width="1" height="38" fill="url(#sl)" opacity="0.18"/>
<rect x="471" y="362" width="1" height="38" fill="url(#sl)" opacity="0.37"/>
<rect x="471" y="362" width="1" height="38" fill="url(#sd)" opacity="0.14"/>
<rect x="472" y="362" width="1" height="38" fill="url(#sl)" opacity="0.62"/>
<rect x="472" y="362" width="1" height="38" fill="url(#sd)" opacity="0.20"/>
<rect x="473" y="362" width="1" height="38" fill="url(#sd)" opacity="0.20"/>
<rect x="474" y="362" width="1" height="38" fill="url(#sd)" opacity="0.16"/>
<rect x="475" y="362" width="1" height="38" fill="url(#sl)" opacity="0.47"/>
<rect x="475" y="362" width="1" height="38" fill="url(#sd)" opacity="0.41"/>
<rect x="476" y="362" width="1" height="38" fill="url(#sl)" opacity="0.70"/>
<rect x="476" y="362" width="1" height="38" fill="url(#sd)" opacity="0.11"/>
<rect x="477" y="362" width="1" height="38" fill="url(#sl)" opacity="0.25"/>
<rect x="477" y="362" width="1" height="38" fill="url(#sd)" opacity="0.20"/>
<rect x="478" y="362" width="1" height="38" fill="url(#sl)" opacity="0.16"/>
<rect x="478" y="362" width="1" height="38" fill="url(#sd)" opacity="0.53"/>
<rect x="479" y="362" width="1" height="38" fill="url(#sl)" opacity="0.35"/>
<rect x="479" y="362" width="1" height="38" fill="url(#sd)" opacity="0.46"/>
<rect x="480" y="362" width="1" height="38" fill="url(#sd)" opacity="0.08"/>
<rect x="481" y="362" width="1" height="38" fill="url(#sd)" opacity="0.06"/>
<rect x="482" y="362" width="1" height="38" fill="url(#sd)" opacity="0.34"/>
<rect x="483" y="362" width="1" height="38" fill="url(#sl)" opacity="0.20"/>
<rect x="485" y="362" width="1" height="38" fill="url(#sd)" opacity="0.17"/>
<rect x="486" y="362" width="1" height="38" fill="url(#sl)" opacity="0.42"/>
<rect x="486" y="362" width="1" height="38" fill="url(#sd)" opacity="0.17"/>
<rect x="487" y="362" width="1" height="38" fill="url(#sl)" opacity="0.72"/>
<rect x="488" y="362" width="1" height="38" fill="url(#sl)" opacity="0.15"/>
<rect x="489" y="362" width="1" height="38" fill="url(#sl)" opacity="0.34"/>
<rect x="490" y="362" width="1" height="38" fill="url(#sl)" opacity="0.19"/>
<rect x="490" y="362" width="1" height="38" fill="url(#sd)" opacity="0.35"/>
<rect x="491" y="362" width="1" height="38" fill="url(#sl)" opacity="0.57"/>
<rect x="491" y="362" width="1" height="38" fill="url(#sd)" opacity="0.29"/>
<rect x="492" y="362" width="1" height="38" fill="url(#sl)" opacity="0.28"/>
<rect x="492" y="362" width="1" height="38" fill="url(#sd)" opacity="0.61"/>
<rect x="493" y="362" width="1" height="38" fill="url(#sd)" opacity="0.57"/>
<rect x="494" y="362" width="1" height="38" fill="url(#sd)" opacity="0.57"/>
<rect x="496" y="362" width="1" height="38" fill="url(#sl)" opacity="0.10"/>
<rect x="497" y="362" width="1" height="38" fill="url(#sl)" opacity="0.05"/>
<rect x="498" y="362" width="1" height="38" fill="url(#sd)" opacity="0.07"/>
<rect x="500" y="362" width="1" height="38" fill="url(#sl)" opacity="0.07"/>
<rect x="501" y="362" width="1" height="38" fill="url(#sl)" opacity="0.41"/>
<rect x="501" y="362" width="1" height="38" fill="url(#sd)" opacity="0.12"/>
<rect x="502" y="362" width="1" height="38" fill="url(#sl)" opacity="0.12"/>
<rect x="503" y="362" width="1" height="38" fill="url(#sl)" opacity="0.74"/>
<rect x="504" y="362" width="1" height="38" fill="url(#sl)" opacity="0.26"/>
<rect x="504" y="362" width="1" height="38" fill="url(#sd)" opacity="0.06"/>
<rect x="505" y="362" width="1" height="38" fill="url(#sl)" opacity="0.25"/>
<rect x="505" y="362" width="1" height="38" fill="url(#sd)" opacity="0.37"/>
<rect x="506" y="362" width="1" height="38" fill="url(#sl)" opacity="0.21"/>
<rect x="506" y="362" width="1" height="38" fill="url(#sd)" opacity="0.15"/>
<rect x="507" y="362" width="1" height="38" fill="url(#sl)" opacity="0.59"/>
<rect x="508" y="362" width="1" height="38" fill="url(#sl)" opacity="0.59"/>
<rect x="509" y="362" width="1" height="38" fill="url(#sl)" opacity="0.27"/>
<rect x="509" y="362" width="1" height="38" fill="url(#sd)" opacity="0.11"/>
<rect x="510" y="362" width="1" height="38" fill="url(#sl)" opacity="0.19"/>
<rect x="510" y="362" width="1" height="38" fill="url(#sd)" opacity="0.29"/>
<rect x="511" y="362" width="1" height="38" fill="url(#sl)" opacity="0.45"/>
<rect x="511" y="362" width="1" height="38" fill="url(#sd)" opacity="0.40"/>
<rect x="512" y="362" width="1" height="38" fill="url(#sl)" opacity="0.59"/>
<rect x="512" y="362" width="1" height="38" fill="url(#sd)" opacity="0.59"/>
<rect x="513" y="362" width="1" height="38" fill="url(#sl)" opacity="0.19"/>
<rect x="513" y="362" width="1" height="38" fill="url(#sd)" opacity="0.46"/>
<rect x="514" y="362" width="1" height="38" fill="url(#sl)" opacity="0.48"/>
<rect x="514" y="362" width="1" height="38" fill="url(#sd)" opacity="0.05"/>
<rect x="515" y="362" width="1" height="38" fill="url(#sl)" opacity="0.76"/>
<rect x="516" y="362" width="1" height="38" fill="url(#sl)" opacity="0.20"/>
<rect x="516" y="362" width="1" height="38" fill="url(#sd)" opacity="0.38"/>
<rect x="517" y="362" width="1" height="38" fill="url(#sd)" opacity="0.45"/>
<rect x="518" y="362" width="1" height="38" fill="url(#sd)" opacity="0.29"/>
<rect x="519" y="362" width="1" height="38" fill="url(#sl)" opacity="0.39"/>
<rect x="519" y="362" width="1" height="38" fill="url(#sd)" opacity="0.45"/>
<rect x="520" y="362" width="1" height="38" fill="url(#sl)" opacity="0.46"/>
<rect x="520" y="362" width="1" height="38" fill="url(#sd)" opacity="0.25"/>
<rect x="521" y="362" width="1" height="38" fill="url(#sl)" opacity="0.81"/>
<rect x="522" y="362" width="1" height="38" fill="url(#sl)" opacity="0.63"/>
<rect x="524" y="362" width="1" height="38" fill="url(#sd)" opacity="0.30"/>
<rect x="525" y="362" width="1" height="38" fill="url(#sd)" opacity="0.59"/>
<rect x="526" y="362" width="1" height="38" fill="url(#sd)" opacity="0.57"/>
<rect x="527" y="362" width="1" height="38" fill="url(#sl)" opacity="0.41"/>
<rect x="527" y="362" width="1" height="38" fill="url(#sd)" opacity="0.26"/>
<rect x="528" y="362" width="1" height="38" fill="url(#sl)" opacity="0.68"/>
<rect x="528" y="362" width="1" height="38" fill="url(#sd)" opacity="0.37"/>
<rect x="529" y="362" width="1" height="38" fill="url(#sl)" opacity="0.67"/>
<rect x="529" y="362" width="1" height="38" fill="url(#sd)" opacity="0.60"/>
<rect x="530" y="362" width="1" height="38" fill="url(#sl)" opacity="0.15"/>
<rect x="530" y="362" width="1" height="38" fill="url(#sd)" opacity="0.51"/>
<rect x="531" y="362" width="1" height="38" fill="url(#sl)" opacity="0.54"/>
<rect x="531" y="362" width="1" height="38" fill="url(#sd)" opacity="0.29"/>
<rect x="532" y="362" width="1" height="38" fill="url(#sl)" opacity="0.09"/>
<rect x="532" y="362" width="1" height="38" fill="url(#sd)" opacity="0.15"/>
<rect x="533" y="362" width="1" height="38" fill="url(#sl)" opacity="0.12"/>
<rect x="533" y="362" width="1" height="38" fill="url(#sd)" opacity="0.15"/>
<rect x="534" y="362" width="1" height="38" fill="url(#sl)" opacity="0.36"/>
<rect x="536" y="362" width="1" height="38" fill="url(#sd)" opacity="0.37"/>
<rect x="537" y="362" width="1" height="38" fill="url(#sl)" opacity="0.48"/>
<rect x="537" y="362" width="1" height="38" fill="url(#sd)" opacity="0.62"/>
<rect x="538" y="362" width="1" height="38" fill="url(#sl)" opacity="0.07"/>
<rect x="538" y="362" width="1" height="38" fill="url(#sd)" opacity="0.29"/>
<rect x="539" y="362" width="1" height="38" fill="url(#sl)" opacity="0.05"/>
<rect x="539" y="362" width="1" height="38" fill="url(#sd)" opacity="0.11"/>
<rect x="540" y="362" width="1" height="38" fill="url(#sl)" opacity="0.25"/>
<rect x="540" y="362" width="1" height="38" fill="url(#sd)" opacity="0.07"/>
<rect x="541" y="362" width="1" height="38" fill="url(#sl)" opacity="0.32"/>
<rect x="541" y="362" width="1" height="38" fill="url(#sd)" opacity="0.18"/>
<rect x="542" y="362" width="1" height="38" fill="url(#sd)" opacity="0.40"/>
<rect x="543" y="362" width="1" height="38" fill="url(#sd)" opacity="0.28"/>
<rect x="544" y="362" width="1" height="38" fill="url(#sl)" opacity="0.10"/>
<rect x="544" y="362" width="1" height="38" fill="url(#sd)" opacity="0.51"/>
<rect x="545" y="362" width="1" height="38" fill="url(#sl)" opacity="0.12"/>
<rect x="545" y="362" width="1" height="38" fill="url(#sd)" opacity="0.05"/>
<rect x="547" y="362" width="1" height="38" fill="url(#sl)" opacity="0.30"/>
<rect x="547" y="362" width="1" height="38" fill="url(#sd)" opacity="0.16"/>
<rect x="548" y="362" width="1" height="38" fill="url(#sl)" opacity="0.72"/>
<rect x="548" y="362" width="1" height="38" fill="url(#sd)" opacity="0.19"/>
<rect x="549" y="362" width="1" height="38" fill="url(#sl)" opacity="0.18"/>
<rect x="549" y="362" width="1" height="38" fill="url(#sd)" opacity="0.50"/>
<rect x="550" y="362" width="1" height="38" fill="url(#sl)" opacity="0.16"/>
<rect x="550" y="362" width="1" height="38" fill="url(#sd)" opacity="0.57"/>
<rect x="551" y="362" width="1" height="38" fill="url(#sd)" opacity="0.60"/>
<rect x="552" y="362" width="1" height="38" fill="url(#sd)" opacity="0.29"/>
<rect x="553" y="362" width="1" height="38" fill="url(#sl)" opacity="0.27"/>
<rect x="554" y="362" width="1" height="38" fill="url(#sl)" opacity="0.06"/>
<rect x="554" y="362" width="1" height="38" fill="url(#sd)" opacity="0.20"/>
<rect x="555" y="362" width="1" height="38" fill="url(#sl)" opacity="0.66"/>
<rect x="555" y="362" width="1" height="38" fill="url(#sd)" opacity="0.23"/>
<rect x="556" y="362" width="1" height="38" fill="url(#sl)" opacity="0.69"/>
<rect x="556" y="362" width="1" height="38" fill="url(#sd)" opacity="0.15"/>
<rect x="557" y="362" width="1" height="38" fill="url(#sl)" opacity="0.12"/>
<rect x="557" y="362" width="1" height="38" fill="url(#sd)" opacity="0.08"/>
<rect x="558" y="362" width="1" height="38" fill="url(#sl)" opacity="0.65"/>
<rect x="558" y="362" width="1" height="38" fill="url(#sd)" opacity="0.38"/>
<rect x="559" y="362" width="1" height="38" fill="url(#sl)" opacity="0.20"/>
<rect x="559" y="362" width="1" height="38" fill="url(#sd)" opacity="0.50"/>
<rect x="560" y="362" width="1" height="38" fill="url(#sl)" opacity="0.48"/>
<rect x="560" y="362" width="1" height="38" fill="url(#sd)" opacity="0.08"/>
<rect x="561" y="362" width="1" height="38" fill="url(#sl)" opacity="0.46"/>
<rect x="561" y="362" width="1" height="38" fill="url(#sd)" opacity="0.24"/>
<rect x="562" y="362" width="1" height="38" fill="url(#sl)" opacity="0.10"/>
<rect x="562" y="362" width="1" height="38" fill="url(#sd)" opacity="0.13"/>
<rect x="563" y="362" width="1" height="38" fill="url(#sl)" opacity="0.34"/>
<rect x="563" y="362" width="1" height="38" fill="url(#sd)" opacity="0.24"/>
<rect x="564" y="362" width="1" height="38" fill="url(#sl)" opacity="0.39"/>
<rect x="564" y="362" width="1" height="38" fill="url(#sd)" opacity="0.58"/>
<rect x="565" y="362" width="1" height="38" fill="url(#sl)" opacity="0.50"/>
<rect x="565" y="362" width="1" height="38" fill="url(#sd)" opacity="0.64"/>
<rect x="566" y="362" width="1" height="38" fill="url(#sl)" opacity="0.11"/>
<rect x="566" y="362" width="1" height="38" fill="url(#sd)" opacity="0.33"/>
<rect x="567" y="362" width="1" height="38" fill="url(#sl)" opacity="0.50"/>
<rect x="567" y="362" width="1" height="38" fill="url(#sd)" opacity="0.11"/>
<rect x="568" y="362" width="1" height="38" fill="url(#sl)" opacity="0.80"/>
<rect x="568" y="362" width="1" height="38" fill="url(#sd)" opacity="0.44"/>
<rect x="569" y="362" width="1" height="38" fill="url(#sl)" opacity="0.43"/>
<rect x="569" y="362" width="1" height="38" fill="url(#sd)" opacity="0.06"/>
<rect x="570" y="362" width="1" height="38" fill="url(#sl)" opacity="0.19"/>
<rect x="570" y="362" width="1" height="38" fill="url(#sd)" opacity="0.13"/>
<rect x="571" y="362" width="1" height="38" fill="url(#sd)" opacity="0.40"/>
<rect x="572" y="362" width="1" height="38" fill="url(#sl)" opacity="0.11"/>
<rect x="572" y="362" width="1" height="38" fill="url(#sd)" opacity="0.10"/>
<rect x="573" y="362" width="1" height="38" fill="url(#sl)" opacity="0.09"/>
<rect x="573" y="362" width="1" height="38" fill="url(#sd)" opacity="0.10"/>
<rect x="574" y="362" width="1" height="38" fill="url(#sl)" opacity="0.40"/>
<rect x="574" y="362" width="1" height="38" fill="url(#sd)" opacity="0.59"/>
<rect x="575" y="362" width="1" height="38" fill="url(#sl)" opacity="0.39"/>
<rect x="575" y="362" width="1" height="38" fill="url(#sd)" opacity="0.59"/>
<rect x="576" y="362" width="1" height="38" fill="url(#sl)" opacity="0.22"/>
<rect x="576" y="362" width="1" height="38" fill="url(#sd)" opacity="0.13"/>
<rect x="577" y="362" width="1" height="38" fill="url(#sd)" opacity="0.06"/>
<rect x="578" y="362" width="1" height="38" fill="url(#sl)" opacity="0.30"/>
<rect x="579" y="362" width="1" height="38" fill="url(#sl)" opacity="0.28"/>
<rect x="580" y="362" width="1" height="38" fill="url(#sl)" opacity="0.07"/>
<rect x="580" y="362" width="1" height="38" fill="url(#sd)" opacity="0.08"/>
<rect x="593" y="338" width="12" height="142" fill="url(#cb)"/>
<rect x="120" y="30" width="462" height="1" fill="#000"/>
<rect x="120" y="172" width="462" height="1" fill="#000"/>
<rect x="120" y="30" width="1" height="143" fill="#000"/>
<rect x="581" y="30" width="1" height="143" fill="#000"/>
<rect x="120" y="173" width="1" height="8" fill="#000"/>
<rect x="135" y="173" width="1" height="4" fill="#000"/>
<rect x="150" y="173" width="1" height="4" fill="#000"/>
<rect x="166" y="173" width="1" height="4" fill="#000"/>
<rect x="181" y="173" width="1" height="4" fill="#000"/>
<rect x="196" y="173" width="1" height="4" fill="#000"/>
<rect x="212" y="173" width="1" height="4" fill="#000"/>
<rect x="227" y="173" width="1" height="4" fill="#000"/>
<rect x="242" y="173" width="1" height="4" fill="#000"/>
<rect x="258" y="173" width="1" height="4" fill="#000"/>
<rect x="273" y="173" width="1" height="8" fill="#000"/>
<rect x="289" y="173" width="1" height="4" fill="#000"/>
<rect x="304" y="173" width="1" height="4" fill="#000"/>
<rect x="319" y="173" width="1" height="4" fill="#000"/>
<rect x="335" y="173" width="1" height="4" fill="#000"/>
<rect x="350" y="173" width="1" height="4" fill="#000"/>
<rect x="365" y="173" width="1" height="4" fill="#000"/>
<rect x="381" y="173" width="1" height="4" fill="#000"/>
<rect x="396" y="173" width="1" height="4" fill="#000"/>
<rect x="411" y="173" width="1" height="4" fill="#000"/>
<rect x="427" y="173" width="1" height="8" fill="#000"/>
<rect x="442" y="173" width="1" height="4" fill="#000"/>
<rect x="458" y="173" width="1" height="4" fill="#000"/>
<rect x="473" y="173" width="1" height="4" fill="#000"/>
<rect x="488" y="173" width="1" height="4" fill="#000"/>
<rect x="504" y="173" width="1" height="4" fill="#000"/>
<rect x="519" y="173" width="1" height="4" fill="#000"/>
<rect x="534" y="173" width="1" height="4" fill="#000"/>
<rect x="550" y="173" width="1" height="4" fill="#000"/>
<rect x="565" y="173" width="1" height="4" fill="#000"/>
<rect x="581" y="173" width="1" height="8" fill="#000"/>
<rect x="112" y="165" width="8" height="1" fill="#000"/>
<rect x="116" y="149" width="4" height="1" fill="#000"/>
<rect x="112" y="134" width="8" height="1" fill="#000"/>
<rect x="116" y="118" width="4" height="1" fill="#000"/>
<rect x="112" y="103" width="8" height="1" fill="#000"/>
<rect x="116" y="87" width="4" height="1" fill="#000"/>
<rect x="112" y="72" width="8" height="1" fill="#000"/>
<rect x="116" y="56" width="4" height="1" fill="#000"/>
<rect x="112" y="41" width="8" height="1" fill="#000"/>
<rect x="120" y="184" width="462" height="1" fill="#000"/>
<rect x="120" y="326" width="462" height="1" fill="#000"/>
<rect x="120" y="184" width="1" height="143" fill="#000"/>
<rect x="581" y="184" width="1" height="143" fill="#000"/>
<rect x="120" y="327" width="1" height="8" fill="#000"/>
<rect x="135" y="327" width="1" height="4" fill="#000"/>
<rect x="150" y="327" width="1" height="4" fill="#000"/>
<rect x="166" y="327" width="1" height="4" fill="#000"/>
<rect x="181" y="327" width="1" height="4" fill="#000"/>
<rect x="196" y="327" width="1" height="4" fill="#000"/>
<rect x="212" y="327" width="1" height="4" fill="#000"/>
<rect x="227" y="327" width="1" height="4" fill="#000"/>
<rect x="242" y="327" width="1" height="4" fill="#000"/>
<rect x="258" y="327" width="1" height="4" fill="#000"/>
<rect x="273" y="327" width="1" height="8" fill="#000"/>
<rect x="289" y="327" width="1" height="4" fill="#000"/>
<rect x="304" y="327" width="1" height="4" fill="#000"/>
<rect x="319" y="327" width="1" height="4" fill="#000"/>
<rect x="335" y="327" width="1" height="4" fill="#000"/>
<rect x="350" y="327" width="1" height="4" fill="#000"/>
<rect x="365" y="327" width="1" height="4" fill="#000"/>
<rect x="381" y="327" width="1" height="4" fill="#000"/>
<rect x="396" y="327" width="1" height="4" fill="#000"/>
<rect x="411" y="327" width="1" height="4" fill="#000"/>
<rect x="427" y="327" width="1" height="8" fill="#000"/>
<rect x="442" y="327" width="1" height="4" fill="#000"/>
<rect x="458" y="327" width="1" height="4" fill="#000"/>
<rect x="473" y="327" width="1" height="4" fill="#000"/>
<rect x="488" y="327" width="1" height="4" fill="#000"/>
<rect x="504" y="327" width="1" height="4" fill="#000"/>
<rect x="519" y="327" width="1" height="4" fill="#000"/>
<rect x="534" y="327" width="1" height="4" fill="#000"/>
<rect x="550" y="327" width="1" height="4" fill="#000"/>
<rect x="565" y="327" width="1" height="4" fill="#000"/>
<rect x="581" y="327" width="1" height="8" fill="#000"/>
<rect x="112" y="322" width="8" height="1" fill="#000"/>
<rect x="116" y="315" width="4" height="1" fill="#000"/>
<rect x="116" y="308" width="4" height="1" fill="#000"/>
<rect x="116" y="301" width="4" height="1" fill="#000"/>
<rect x="116" y="294" width="4" height="1" fill="#000"/>
<rect x="112" y="287" width="8" height="1" fill="#000"/>
<rect x="116" y="280" width="4" height="1" fill="#000"/>
<rect x="116" y="273" width="4" height="1" fill="#000"/>
<rect x="116" y="266" width="4" height="1" fill="#000"/>
<rect x="116" y="259" width="4" height="1" fill="#000"/>
<rect x="112" y="252" width="8" height="1" fill="#000"/>
<rect x="116" y="245" width="4" height="1" fill="#000"/>
<rect x="116" y="238" width="4" height="1" fill="#000"/>
<rect x="116" y="231" width="4" height="1" fill="#000"/>
<rect x="116" y="224" width="4" height="1" fill="#000"/>
<rect x="112" y="217" width="8" height="1" fill="#000"/>
<rect x="116" y="210" width="4" height="1" fill="#000"/>
<rect x="116" y="203" width="4" height="1" fill="#000"/>
<rect x="116" y="196" width="4" height="1" fill="#000"/>
<rect x="116" y="189" width="4" height="1" fill="#000"/>
<rect x="120" y="338" width="462" height="1" fill="#000"/>
<rect x="120" y="480" width="462" height="1" fill="#000"/>
<rect x="120" y="338" width="1" height="143" fill="#000"/>
<rect x="581" y="338" width="1" height="143" fill="#000"/>
<rect x="120" y="481" width="1" height="8" fill="#000"/>
<rect x="135" y="481" width="1" height="4" fill="#000"/>
<rect x="150" y="481" width="1" height="4" fill="#000"/>
<rect x="166" y="481" width="1" height="4" fill="#000"/>
<rect x="181" y="481" width="1" height="4" fill="#000"/>
<rect x="196" y="481" width="1" height="4" fill="#000"/>
<rect x="212" y="481" width="1" height="4" fill="#000"/>
<rect x="227" y="481" width="1" height="4" fill="#000"/>
<rect x="242" y="481" width="1" height="4" fill="#000"/>
<rect x="258" y="481" width="1" height="4" fill="#000"/>
<rect x="273" y="481" width="1" height="8" fill="#000"/>
<rect x="289" y="481" width="1" height="4" fill="#000"/>
<rect x="304" y="481" width="1" height="4" fill="#000"/>
<rect x="319" y="481" width="1" height="4" fill="#000"/>
<rect x="335" y="481" width="1" height="4" fill="#000"/>
<rect x="350" y="481" width="1" height="4" fill="#000"/>
<rect x="365" y="481" width="1" height="4" fill="#000"/>
<rect x="381" y="481" width="1" height="4" fill="#000"/>
<rect x="396" y="481" width="1" height="4" fill="#000"/>
<rect x="411" y="481" width="1" height="4" fill="#000"/>
<rect x="427" y="481" width="1" height="8" fill="#000"/>
<rect x="442" y="481" width="1" height="4" fill="#000"/>
<rect x="458" y="481" width="1" height="4" fill="#000"/>
<rect x="473" y="481" width="1" height="4" fill="#000"/>
<rect x="488" y="481" width="1" height="4" fill="#000"/>
<rect x="504" y="481" width="1" height="4" fill="#000"/>
<rect x="519" y="481" width="1" height="4" fill="#000"/>
<rect x="534" y="481" width="1" height="4" fill="#000"/>
<rect x="550" y="481" width="1" height="4" fill="#000"/>
<rect x="565" y="481" width="1" height="4" fill="#000"/>
<rect x="581" y="481" width="1" height="8" fill="#000"/>
<rect x="116" y="479" width="4" height="1" fill="#000"/>
<rect x="116" y="477" width="4" height="1" fill="#000"/>
<rect x="116" y="475" width="4" height="1" fill="#000"/>
<rect x="112" y="473" width="8" height="1" fill="#000"/>
<rect x="116" y="471" width="4" height="1" fill="#000"/>
<rect x="116" y="469" width="4" height="1" fill="#000"/>
<rect x="116" y="468" width="4" height="1" fill="#000"/>
<rect x="116" y="466" width="4" height="1" fill="#000"/>
<rect x="116" y="464" width="4" height="1" fill="#000"/>
<rect x="116" y="462" width="4" height="1" fill="#000"/>
<rect x="116" y="460" width="4" height="1" fill="#000"/>
<rect x="116" y="458" width="4" height="1" fill="#000"/>
<rect x="116" y="456" width="4" height="1" fill="#000"/>
<rect x="112" y="455" width="8" height="1" fill="#000"/>
<rect x="116" y="453" width="4" height="1" fill="#000"/>
<rect x="116" y="451" width="4" height="1" fill="#000"/>
<rect x="116" y="449" width="4" height="1" fill="#000"/>
<rect x="116" y="447" width="4" height="1" fill="#000"/>
<rect x="116" y="445" width="4" height="1" fill="#000"/>
<rect x="116" y="444" width="4" height="1" fill="#000"/>
<rect x="116" y="442" width="4" height="1" fill="#000"/>
<rect x="116" y="440" width="4" height="1" fill="#000"/>
<rect x="116" y="438" width="4" height="1" fill="#000"/>
<rect x="112" y="436" width="8" height="1" fill="#000"/>
<rect x="116" y="434" width="4" height="1" fill="#000"/>
<rect x="116" y="432" width="4" height="1" fill="#000"/>
<rect x="116" y="431" width="4" height="1" fill="#000"/>
<rect x="116" y="429" width="4" height="1" fill="#000"/>
<rect x="116" y="427" width="4" height="1" fill="#000"/>
<rect x="116" y="425" width="4" height="1" fill="#000"/>
<rect x="116" y="423" width="4" height="1" fill="#000"/>
<rect x="116" y="421" width="4" height="1" fill="#000"/>
<rect x="116" y="420" width="4" height="1" fill="#000"/>
<rect x="112" y="418" width="8" height="1" fill="#000"/>
<rect x="116" y="416" width="4" height="1" fill="#000"/>
<rect x="116" y="414" width="4" height="1" fill="#000"/>
<rect x="116" y="412" width="4" height="1" fill="#000"/>
<rect x="116" y="410" width="4" height="1" fill="#000"/>
<rect x="116" y="409" width="4" height="1" fill="#000"/>
<rect x="116" y="407" width="4" height="1" fill="#000"/>
<rect x="116" y="405" width="4" height="1" fill="#000"/>
<rect x="116" y="403" width="4" height="1" fill="#000"/>
<rect x="116" y="401" width="4" height="1" fill="#000"/>
<rect x="112" y="399" width="8" height="1" fill="#000"/>
<rect x="116" y="397" width="4" height="1" fill="#000"/>
<rect x="116" y="396" width="4" height="1" fill="#000"/>
<rect x="116" y="394" width="4" height="1" fill="#000"/>
<rect x="116" y="392" width="4" height="1" fill="#000"/>
<rect x="116" y="390" width="4" height="1" fill="#000"/>
<rect x="116" y="388" width="4" height="1" fill="#000"/>
<rect x="116" y="386" width="4" height="1" fill="#000"/>
<rect x="116" y="385" width="4" height="1" fill="#000"/>
<rect x="116" y="383" width="4" height="1" fill="#000"/>
<rect x="112" y="381" width="8" height="1" fill="#000"/>
<rect x="116" y="379" width="4" height="1" fill="#000"/>
<rect x="116" y="377" width="4" height="1" fill="#000"/>
<rect x="116" y="375" width="4" height="1" fill="#000"/>
<rect x="116" y="374" width="4" height="1" fill="#000"/>
<rect x="116" y="372" width="4" height="1" fill="#000"/>
<rect x="116" y="370" width="4" height="1" fill="#000"/>
<rect x="116" y="368" width="4" height="1" fill="#000"/>
<rect x="116" y="366" width="4" height="1" fill="#000"/>
<rect x="116" y="364" width="4" height="1" fill="#000"/>
<rect x="112" y="362" width="8" height="1" fill="#000"/>
<rect x="116" y="361" width="4" height="1" fill="#000"/>
<rect x="116" y="359" width="4" height="1" fill="#000"/>
<rect x="116" y="357" width="4" height="1" fill="#000"/>
<rect x="116" y="355" width="4" height="1" fill="#000"/>
<rect x="116" y="353" width="4" height="1" fill="#000"/>
<rect x="116" y="351" width="4" height="1" fill="#000"/>
<rect x="116" y="350" width="4" height="1" fill="#000"/>
<rect x="116" y="348" width="4" height="1" fill="#000"/>
<rect x="116" y="346" width="4" height="1" fill="#000"/>
<rect x="112" y="344" width="8" height="1" fill="#000"/>
<rect x="116" y="342" width="4" height="1" fill="#000"/>
<rect x="116" y="340" width="4" height="1" fill="#000"/>
<rect x="116" y="338" width="4" height="1" fill="#000"/>
<rect x="605" y="338" width="1" height="143" fill="#000"/>
<rect x="593" y="480" width="13" height="1" fill="#000"/>
<rect x="606" y="479" width="4" height="1" fill="#000"/>
<rect x="606" y="476" width="4" height="1" fill="#000"/>
<rect x="606" y="474" width="4" height="1" fill="#000"/>
<rect x="606" y="472" width="4" height="1" fill="#000"/>
<rect x="606" y="470" width="4" height="1" fill="#000"/>
<rect x="606" y="468" width="4" height="1" fill="#000"/>
<rect x="606" y="467" width="8" height="1" fill="#000"/>
<rect x="606" y="457" width="4" height="1" fill="#000"/>
<rect x="606" y="451" width="4" height="1" fill="#000"/>
<rect x="606" y="447" width="4" height="1" fill="#000"/>
<rect x="606" y="444" width="4" height="1" fill="#000"/>
<rect x="606" y="442" width="4" height="1" fill="#000"/>
<rect x="606" y="439" width="4" height="1" fill="#000"/>
<rect x="606" y="437" width="4" height="1" fill="#000"/>
<rect x="606" y="436" width="4" height="1" fill="#000"/>
<rect x="606" y="434" width="8" height="1" fill="#000"/>
<rect x="606" y="425" width="4" height="1" fill="#000"/>
<rect x="606" y="419" width="4" height="1" fill="#000"/>
<rect x="606" y="415" width="4" height="1" fill="#000"/>
<rect x="606" y="412" width="4" height="1" fill="#000"/>
<rect x="606" y="409" width="4" height="1" fill="#000"/>
<rect x="606" y="407" width="4" height="1" fill="#000"/>
<rect x="606" y="405" width="4" height="1" fill="#000"/>
<rect x="606" y="404" width="4" height="1" fill="#000"/>
<rect x="606" y="402" width="8" height="1" fill="#000"/>
<rect x="606" y="392" width="4" height="1" fill="#000"/>
<rect x="606" y="387" width="4" height="1" fill="#000"/>
<rect x="606" y="383" width="4" height="1" fill="#000"/>
<rect x="606" y="380" width="4" height="1" fill="#000"/>
<rect x="606" y="377" width="4" height="1" fill="#000"/>
<rect x="606" y="375" width="4" height="1" fill="#000"/>
<rect x="606" y="373" width="4" height="1" fill="#000"/>
<rect x="606" y="371" width="4" height="1" fill="#000"/>
<rect x="606" y="370" width="8" height="1" fill="#000"/>
<rect x="606" y="360" width="4" height="1" fill="#000"/>
<rect x="606" y="354" width="4" height="1" fill="#000"/>
<rect x="606" y="350" width="4" height="1" fill="#000"/>
<rect x="606" y="347" width="4" height="1" fill="#000"/>
<rect x="606" y="345" width="4" height="1" fill="#000"/>
<rect x="606" y="343" width="4" height="1" fill="#000"/>
<rect x="606" y="341" width="4" height="1" fill="#000"/>
<rect x="606" y="339" width="4" height="1" fill="#000"/>
<rect x="606" y="338" width="8" height="1" fill="#000"/>
</g>
<text x="108" y="169.8" text-anchor="end">0</text>
<text x="108" y="138.8" text-anchor="end">20</text>
<text x="108" y="107.8" text-anchor="end">40</text>
<text x="108" y="76.8" text-anchor="end">60</text>
<text x="108" y="45.8" text-anchor="end">80</text>
<text x="108" y="221.9" text-anchor="end">0</text>
<text x="108" y="256.9" text-anchor="end">-50</text>
<text x="108" y="291.9" text-anchor="end">-100</text>
<text x="108" y="326.9" text-anchor="end">-150</text>
<text x="108" y="477.9" text-anchor="end">-1</text>
<text x="108" y="459.5" text-anchor="end">0</text>
<text x="108" y="441.1" text-anchor="end">1</text>
<text x="108" y="422.6" text-anchor="end">2</text>
<text x="108" y="404.2" text-anchor="end">3</text>
<text x="108" y="385.8" text-anchor="end">4</text>
<text x="108" y="367.4" text-anchor="end">5</text>
<text x="108" y="348.9" text-anchor="end">6</text>
<text x="119.6" y="504" text-anchor="middle">2007-04-01</text>
<text x="273.3" y="504" text-anchor="middle">2007-04-11</text>
<text x="426.9" y="504" text-anchor="middle">2007-04-21</text>
<text x="580.6" y="504" text-anchor="middle">2007-05-01</text>
<text x="617" y="345.9">10<tspan dy="-6.2" dx="0.6">3</tspan></text>
<text x="617" y="377.9">10<tspan dy="-6.2" dx="0.6">2</tspan></text>
<text x="617" y="409.9">10<tspan dy="-6.2" dx="0.6">1</tspan></text>
<text x="617" y="441.9">10<tspan dy="-6.2" dx="0.6">0</tspan></text>
<text x="617" y="474.9">10<tspan dy="-6.2" dx="0.6">-1</tspan></text>
<text transform="translate(46.6,101.6) rotate(-90)" text-anchor="middle">Kp</text>
<text transform="translate(58.9,103.7) rotate(-90)" text-anchor="middle">(e.g. 3+ = 33,</text>
<text transform="translate(70.8,104.2) rotate(-90)" text-anchor="middle">6- = 57,</text>
<text transform="translate(82.8,103.2) rotate(-90)" text-anchor="middle">4 = 40, etc.)</text>
<text transform="translate(71,255) rotate(-90)" text-anchor="middle">DST</text>
<text transform="translate(87.5,408.3) rotate(-90)" text-anchor="middle">Proton Flux</text>
<polyline points="120.50,87.50 121.14,87.50 121.78,98.50 124.98,98.50 125.62,107.50 126.90,107.50 127.54,103.50 128.82,103.50 129.46,114.50 130.74,114.50 131.38,107.50 132.66,107.50 133.31,98.50 134.59,98.50 135.23,103.50 136.51,103.50 137.15,87.50 138.43,87.50 139.07,103.50 140.35,103.50 140.99,114.50 142.27,114.50 142.91,118.50 144.19,118.50 144.83,129.50 146.11,129.50 146.75,114.50 149.95,114.50 150.59,118.50 151.87,118.50 152.51,114.50 153.79,114.50 154.43,129.50 155.71,129.50 156.36,139.50 159.56,139.50 160.20,107.50 161.48,107.50 162.12,129.50 163.40,129.50 164.04,139.50 165.32,139.50 165.96,114.50 169.16,114.50 169.80,139.50 174.92,139.50 175.56,145.50 176.84,145.50 177.48,139.50 178.76,139.50 179.40,134.50 180.68,134.50 181.33,145.50 186.45,145.50 187.09,160.50 188.37,160.50 189.01,154.50 192.21,154.50 192.85,160.50 194.13,160.50 194.77,149.50 196.05,149.50 196.69,145.50 197.97,145.50 198.61,139.50 199.89,139.50 200.53,149.50 201.81,149.50 202.45,154.50 203.73,154.50 204.38,160.50 207.58,160.50 208.22,149.50 211.42,149.50 212.06,123.50 213.34,123.50 213.98,149.50 215.26,149.50 215.90,165.50 219.10,165.50 219.74,154.50 221.02,154.50 221.66,160.50 222.94,160.50 223.58,165.50 224.86,165.50 225.50,160.50 226.78,160.50 227.42,165.50 230.63,165.50 231.27,154.50 238.31,154.50 238.95,160.50 240.23,160.50 240.87,134.50 242.15,134.50 242.79,107.50 244.07,107.50 244.71,114.50 245.99,114.50 246.63,118.50 247.91,118.50 248.55,129.50 249.83,129.50 250.47,145.50 251.75,145.50 252.40,154.50 255.60,154.50 256.24,149.50 257.52,149.50 258.16,134.50 259.44,134.50 260.08,160.50 261.36,160.50 262.00,165.50 263.28,165.50 263.92,139.50 265.20,139.50 265.84,123.50 269.04,123.50 269.68,134.50 270.96,134.50 271.60,129.50 274.80,129.50 275.44,134.50 276.72,134.50 277.37,154.50 280.57,154.50 281.21,160.50 288.25,160.50 288.89,129.50 292.09,129.50 292.73,139.50 294.01,139.50 294.65,123.50 295.93,123.50 296.57,107.50 297.85,107.50 298.49,129.50 299.77,129.50 300.42,139.50 301.70,139.50 302.34,154.50 305.54,154.50 306.18,165.50 307.46,165.50 308.10,160.50 313.22,160.50 313.86,165.50 320.90,165.50 321.54,149.50 322.82,149.50 323.46,154.50 324.74,154.50 325.39,165.50 326.67,165.50 327.31,145.50 328.59,145.50 329.23,139.50 330.51,139.50 331.15,154.50 332.43,154.50 333.07,129.50 334.35,129.50 334.99,134.50 338.19,134.50 338.83,145.50 342.03,145.50 342.67,149.50 345.87,149.50 346.51,160.50 347.79,160.50 348.44,165.50 357.40,165.50 358.04,160.50 359.32,160.50 359.96,165.50 367.00,165.50 367.64,149.50 368.92,149.50 369.56,139.50 370.84,139.50 371.48,134.50 372.76,134.50 373.41,114.50 374.69,114.50 375.33,123.50 380.45,123.50 381.09,118.50 382.37,118.50 383.01,114.50 384.29,114.50 384.93,149.50 386.21,149.50 386.85,145.50 388.13,145.50 388.77,149.50 390.05,149.50 390.69,145.50 391.97,145.50 392.61,129.50 393.89,129.50 394.53,123.50 397.74,123.50 398.38,134.50 399.66,134.50 400.30,145.50 401.58,145.50 402.22,149.50 405.42,149.50 406.06,160.50 407.34,160.50 407.98,154.50 409.26,154.50 409.90,149.50 411.18,149.50 411.82,145.50 415.02,145.50 415.66,154.50 416.94,154.50 417.58,165.50 418.86,165.50 419.50,160.50 422.71,160.50 423.35,165.50 424.63,165.50 425.27,145.50 426.55,145.50 427.19,160.50 428.47,160.50 429.11,149.50 430.39,149.50 431.03,165.50 436.15,165.50 436.79,160.50 439.99,160.50 440.63,154.50 441.91,154.50 442.55,129.50 445.76,129.50 446.40,145.50 447.68,145.50 448.32,134.50 451.52,134.50 452.16,123.50 457.28,123.50 457.92,103.50 459.20,103.50 459.84,87.50 461.12,87.50 461.76,98.50 463.04,98.50 463.68,145.50 464.96,145.50 465.60,154.50 466.88,154.50 467.52,145.50 468.80,145.50 469.45,160.50 472.65,160.50 473.29,145.50 474.57,145.50 475.21,154.50 482.25,154.50 482.89,149.50 484.17,149.50 484.81,139.50 486.09,139.50 486.73,145.50 488.01,145.50 488.65,134.50 489.93,134.50 490.57,139.50 491.85,139.50 492.50,154.50 495.70,154.50 496.34,129.50 497.62,129.50 498.26,134.50 499.54,134.50 500.18,154.50 501.46,154.50 502.10,160.50 503.38,160.50 504.02,123.50 505.30,123.50 505.94,154.50 509.14,154.50 509.78,149.50 511.06,149.50 511.70,145.50 512.98,145.50 513.62,129.50 514.90,129.50 515.54,134.50 516.82,134.50 517.47,139.50 518.75,139.50 519.39,134.50 520.67,134.50 521.31,145.50 522.59,145.50 523.23,154.50 524.51,154.50 525.15,123.50 526.43,123.50 527.07,134.50 528.35,134.50 528.99,107.50 530.27,107.50 530.91,103.50 532.19,103.50 532.83,87.50 534.11,87.50 534.75,92.50 536.03,92.50 536.67,107.50 537.95,107.50 538.59,103.50 539.87,103.50 540.52,98.50 541.80,98.50 542.44,103.50 543.72,103.50 544.36,107.50 547.56,107.50 548.20,98.50 549.48,98.50 550.12,103.50 553.32,103.50 553.96,92.50 555.24,92.50 555.88,114.50 557.16,114.50 557.80,123.50 559.08,123.50 559.72,129.50 561.00,129.50 561.64,118.50 562.92,118.50 563.56,114.50 564.84,114.50 565.49,98.50 566.77,98.50 567.41,103.50 570.61,103.50 571.25,134.50 574.45,134.50 575.09,129.50 576.37,129.50 577.01,145.50 578.29,145.50 578.93,149.50 580.21,149.50 580.85,129.50 581.50,129.50" fill="none" stroke="#000" stroke-width="1" stroke-linejoin="miter" shape-rendering="crispEdges"/>
<polyline points="120.71,216.19 121.43,231.54 121.79,237.40 122.51,234.25 123.23,238.76 124.14,255.91 125.22,261.32 125.94,245.08 127.03,233.34 127.75,239.66 128.47,245.08 129.55,242.37 130.64,240.56 131.54,239.66 132.26,236.95 132.89,238.31 133.52,236.50 134.25,234.70 134.79,238.76 135.69,243.72 136.59,244.17 137.31,240.56 138.04,245.08 138.58,250.04 139.30,244.17 140.02,238.76 140.92,236.95 141.65,240.56 142.55,238.76 143.45,237.40 144.35,232.89 145.08,234.25 145.80,236.95 146.52,234.70 147.42,232.44 148.32,232.89 149.05,235.60 149.95,237.86 150.67,235.60 151.39,233.79 152.30,235.60 153.20,237.86 154.10,235.15 155.18,232.44 156.27,230.64 157.35,227.48 158.61,227.03 159.70,227.93 160.42,231.54 161.32,234.70 162.22,233.79 162.95,227.93 164.03,226.57 165.11,227.48 166.01,232.44 166.74,237.40 167.46,240.11 168.36,236.95 169.44,235.60 170.80,235.15 172.15,234.25 173.05,231.54 173.78,229.73 174.00,230.69 175.35,231.14 176.71,232.49 177.79,231.59 178.51,227.53 179.23,226.62 179.96,229.78 181.22,231.14 183.03,231.59 184.11,228.88 184.83,226.62 185.73,228.88 186.64,227.53 187.54,226.62 188.62,228.43 189.79,230.23 190.97,228.88 192.05,225.27 193.13,224.37 194.31,224.82 195.48,227.08 196.56,228.88 197.65,228.43 198.82,226.62 200.17,224.37 201.08,227.08 201.80,229.33 203.33,229.33 205.14,228.88 206.31,229.33 207.57,228.43 208.48,224.37 209.65,221.66 210.55,222.56 211.45,226.17 212.36,228.88 213.53,226.62 214.61,225.27 215.70,223.92 216.87,224.82 218.22,224.37 219.31,223.47 220.48,224.37 221.65,224.82 222.74,227.08 223.64,225.27 224.54,221.66 225.44,218.50 226.53,219.86 227.70,220.31 229.51,220.31 230.00,219.75 231.08,217.04 232.26,217.94 233.43,221.10 234.51,217.94 235.60,216.59 236.77,215.69 237.67,214.78 239.03,215.23 240.11,214.78 241.28,212.53 241.73,203.05 242.45,194.03 243.54,188.61 244.08,201.25 244.62,212.53 245.52,207.56 246.43,194.03 246.97,203.05 247.60,213.88 248.50,211.17 249.40,218.39 250.58,221.55 251.66,224.26 253.01,223.81 253.92,222.00 255.27,221.10 256.62,219.30 257.98,218.39 259.06,219.30 260.23,217.94 261.59,216.59 262.67,217.04 263.84,218.84 265.20,215.69 266.10,214.78 267.00,217.04 268.09,214.33 268.99,216.14 269.53,219.30 270.43,215.69 271.52,215.69 272.42,217.94 273.32,223.81 274.04,224.26 274.68,220.20 275.58,217.49 276.75,218.84 277.83,221.10 279.19,219.75 280.54,218.39 281.90,217.49 283.25,217.94 284.15,216.14 285.51,216.59 286.00,216.66 286.90,213.50 287.81,211.70 288.71,213.95 289.61,217.56 290.51,219.37 291.42,217.11 292.50,216.66 293.40,215.31 294.57,216.21 295.48,224.78 296.38,234.26 297.28,231.55 298.45,231.10 299.54,231.55 300.89,234.26 301.79,231.10 302.70,229.75 304.05,229.75 305.13,227.94 306.04,225.69 307.21,228.39 308.56,227.49 309.65,226.14 310.55,223.88 311.72,222.08 312.90,221.17 314.16,222.08 315.33,223.43 316.69,224.33 318.04,222.98 319.21,222.08 320.30,219.82 321.38,216.66 322.28,214.40 323.18,217.56 324.09,221.17 324.99,222.08 326.16,220.27 327.52,219.37 328.60,218.92 329.32,216.21 330.04,214.40 330.95,217.56 331.85,216.66 332.93,216.21 333.83,220.27 334.74,222.53 336.09,223.88 337.26,223.88 338.17,222.98 338.80,225.69 339.70,229.75 340.60,231.55 341.51,228.39 342.00,228.39 342.72,222.08 343.62,221.62 344.53,224.33 346.06,224.33 347.42,223.88 348.50,222.53 349.67,221.62 351.03,222.08 351.93,221.17 353.28,222.08 354.45,221.62 355.54,224.33 356.44,219.37 357.79,219.37 359.15,219.82 360.50,218.92 361.40,217.11 362.58,218.01 363.66,216.21 365.01,216.66 365.92,217.11 366.82,213.95 367.72,208.09 369.08,206.28 369.80,210.34 370.70,213.05 371.60,217.56 372.51,222.08 372.87,231.10 373.41,237.42 374.04,240.13 374.67,236.06 375.57,235.61 376.30,240.13 377.38,237.87 378.28,234.71 379.18,231.10 380.09,231.55 381.26,234.71 382.16,230.65 383.06,230.20 383.97,232.91 385.14,233.81 386.22,234.26 387.13,229.30 388.03,225.23 389.11,223.43 390.29,222.08 391.46,219.37 392.36,221.17 393.26,223.88 394.35,224.33 395.43,224.33 396.60,227.94 397.51,223.88 398.00,221.62 399.08,222.98 400.26,228.84 401.43,233.36 402.51,228.39 403.42,225.69 404.32,228.39 405.40,223.88 406.57,220.27 407.93,219.37 409.28,219.37 410.45,219.82 411.54,223.88 412.89,222.53 414.25,222.08 415.60,220.72 416.95,218.47 418.31,216.66 419.66,215.31 421.29,213.50 422.55,214.40 423.99,215.31 425.08,218.92 426.16,222.08 427.06,223.88 428.23,221.17 429.59,218.92 430.94,217.56 432.30,216.21 433.38,215.31 434.55,216.21 435.73,214.40 436.81,212.60 438.16,212.15 439.52,211.25 440.42,210.79 441.32,212.60 442.40,213.95 443.13,209.44 444.21,208.54 445.11,210.79 445.83,216.21 446.56,219.37 447.46,215.31 448.36,213.05 449.26,214.40 450.35,212.15 451.43,212.60 452.33,217.56 453.23,221.17 454.00,217.11 455.81,216.66 457.16,216.66 458.06,215.76 458.96,221.17 459.87,226.59 460.50,222.08 461.22,229.30 461.67,236.06 462.30,232.45 463.48,233.36 464.65,235.61 466.18,236.52 467.09,233.81 467.72,230.20 468.89,228.84 470.25,228.39 471.60,228.84 472.95,229.30 473.86,226.59 474.76,222.53 476.11,221.62 477.29,222.53 478.37,224.33 479.27,220.27 480.35,217.56 481.26,220.27 482.16,222.08 483.06,218.47 484.23,214.40 485.59,213.95 486.94,212.15 488.12,214.40 489.20,217.56 490.28,223.88 491.45,224.33 492.36,221.62 493.71,220.27 494.79,218.01 495.97,216.21 497.14,217.11 498.22,219.37 499.31,220.27 500.03,223.88 500.93,221.17 502.01,218.01 502.92,217.56 503.82,222.08 504.72,226.14 505.90,224.78 506.80,221.62 508.15,218.47 509.23,216.21 510.00,214.44 511.08,214.89 511.81,218.50 512.53,221.21 513.25,218.95 513.79,211.73 514.51,208.57 515.42,210.38 516.14,216.25 516.77,223.92 517.94,225.72 518.84,229.33 519.75,228.88 520.65,225.27 521.73,224.37 522.64,222.11 523.54,218.95 524.44,217.15 525.34,219.40 526.06,221.66 526.70,218.50 527.60,214.89 528.50,213.99 529.13,212.64 529.86,215.34 530.94,218.95 532.11,222.56 533.01,223.92 533.16,223.54 533.79,232.56 534.51,240.69 534.69,246.55 535.42,241.59 536.32,237.53 537.04,239.78 537.94,237.08 538.57,243.39 539.03,237.98 539.93,238.88 540.83,234.37 541.73,229.40 542.64,233.01 543.54,238.43 544.44,235.27 545.52,236.17 546.43,237.08 547.33,233.47 548.05,231.66 549.13,232.11 550.04,231.66 550.94,233.92 552.11,234.37 552.74,238.43 553.65,234.37 554.55,231.66 555.72,230.31 556.90,228.05 558.16,227.60 559.06,229.40 559.96,233.92 560.87,236.62 562.04,237.08 562.94,233.47 564.12,232.56 565.02,236.17 565.92,240.69 566.82,237.53 567.73,238.43 568.63,243.39 569.26,239.78 570.16,241.14 571.06,246.10 571.70,245.65 572.42,237.08 573.32,234.37 574.40,236.17 575.58,236.62 576.75,235.72 577.83,231.66 579.19,227.15 580.09,226.70 581.44,227.15" fill="none" stroke="#000" stroke-width="1.15" stroke-linejoin="round"/>
</svg></body></html>
